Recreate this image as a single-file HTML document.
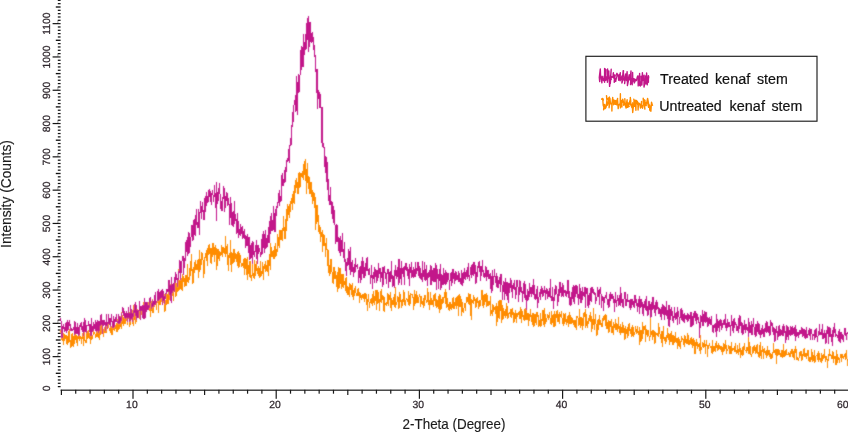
<!DOCTYPE html>
<html><head><meta charset="utf-8"><title>XRD</title>
<style>
html,body{margin:0;padding:0;background:#fff;}
body{width:848px;height:432px;overflow:hidden;font-family:"Liberation Sans",Arial,sans-serif;}
svg{display:block}
.tk{font-size:10.4px;text-rendering:geometricPrecision;fill:#2e262c;stroke:#2e262c;stroke-width:.25px}
.ttl{font-size:13.8px;fill:#1c1c1c;stroke:#1c1c1c;stroke-width:.15px}
.lg{font-size:14.9px;fill:#111;stroke:#111;stroke-width:.2px}
</style></head><body>
<svg width="848" height="432" viewBox="0 0 848 432" font-family="Liberation Sans, Arial, sans-serif">
<rect width="848" height="432" fill="#fff"/>
<g fill="#141414"><rect x="57.8" y="386.00" width="2.8" height="1.25"/><rect x="57.8" y="382.67" width="2.8" height="1.25"/><rect x="57.8" y="379.34" width="2.8" height="1.25"/><rect x="57.8" y="376.01" width="2.8" height="1.25"/><rect x="55.8" y="372.63" width="4.8" height="1.35"/><rect x="57.8" y="369.35" width="2.8" height="1.25"/><rect x="57.8" y="366.02" width="2.8" height="1.25"/><rect x="57.8" y="362.69" width="2.8" height="1.25"/><rect x="57.8" y="359.36" width="2.8" height="1.25"/><rect x="52.6" y="356.05" width="8" height="1.2"/><rect x="57.4" y="353.35" width="1" height="3" opacity=".4"/><rect x="57.8" y="352.70" width="2.8" height="1.25"/><rect x="57.8" y="349.37" width="2.8" height="1.25"/><rect x="57.8" y="346.04" width="2.8" height="1.25"/><rect x="57.8" y="342.71" width="2.8" height="1.25"/><rect x="55.8" y="339.33" width="4.8" height="1.35"/><rect x="57.8" y="336.05" width="2.8" height="1.25"/><rect x="57.8" y="332.72" width="2.8" height="1.25"/><rect x="57.8" y="329.39" width="2.8" height="1.25"/><rect x="57.8" y="326.06" width="2.8" height="1.25"/><rect x="52.6" y="322.75" width="8" height="1.2"/><rect x="57.4" y="320.05" width="1" height="3" opacity=".4"/><rect x="57.8" y="319.40" width="2.8" height="1.25"/><rect x="57.8" y="316.07" width="2.8" height="1.25"/><rect x="57.8" y="312.74" width="2.8" height="1.25"/><rect x="57.8" y="309.41" width="2.8" height="1.25"/><rect x="55.8" y="306.03" width="4.8" height="1.35"/><rect x="57.8" y="302.75" width="2.8" height="1.25"/><rect x="57.8" y="299.42" width="2.8" height="1.25"/><rect x="57.8" y="296.09" width="2.8" height="1.25"/><rect x="57.8" y="292.76" width="2.8" height="1.25"/><rect x="52.6" y="289.45" width="8" height="1.2"/><rect x="57.4" y="286.75" width="1" height="3" opacity=".4"/><rect x="57.8" y="286.10" width="2.8" height="1.25"/><rect x="57.8" y="282.77" width="2.8" height="1.25"/><rect x="57.8" y="279.44" width="2.8" height="1.25"/><rect x="57.8" y="276.11" width="2.8" height="1.25"/><rect x="55.8" y="272.73" width="4.8" height="1.35"/><rect x="57.8" y="269.45" width="2.8" height="1.25"/><rect x="57.8" y="266.12" width="2.8" height="1.25"/><rect x="57.8" y="262.79" width="2.8" height="1.25"/><rect x="57.8" y="259.46" width="2.8" height="1.25"/><rect x="52.6" y="256.15" width="8" height="1.2"/><rect x="57.4" y="253.45" width="1" height="3" opacity=".4"/><rect x="57.8" y="252.80" width="2.8" height="1.25"/><rect x="57.8" y="249.47" width="2.8" height="1.25"/><rect x="57.8" y="246.14" width="2.8" height="1.25"/><rect x="57.8" y="242.81" width="2.8" height="1.25"/><rect x="55.8" y="239.43" width="4.8" height="1.35"/><rect x="57.8" y="236.15" width="2.8" height="1.25"/><rect x="57.8" y="232.82" width="2.8" height="1.25"/><rect x="57.8" y="229.49" width="2.8" height="1.25"/><rect x="57.8" y="226.16" width="2.8" height="1.25"/><rect x="52.6" y="222.85" width="8" height="1.2"/><rect x="57.4" y="220.15" width="1" height="3" opacity=".4"/><rect x="57.8" y="219.50" width="2.8" height="1.25"/><rect x="57.8" y="216.17" width="2.8" height="1.25"/><rect x="57.8" y="212.84" width="2.8" height="1.25"/><rect x="57.8" y="209.51" width="2.8" height="1.25"/><rect x="55.8" y="206.13" width="4.8" height="1.35"/><rect x="57.8" y="202.85" width="2.8" height="1.25"/><rect x="57.8" y="199.52" width="2.8" height="1.25"/><rect x="57.8" y="196.19" width="2.8" height="1.25"/><rect x="57.8" y="192.86" width="2.8" height="1.25"/><rect x="52.6" y="189.55" width="8" height="1.2"/><rect x="57.4" y="186.85" width="1" height="3" opacity=".4"/><rect x="57.8" y="186.20" width="2.8" height="1.25"/><rect x="57.8" y="182.87" width="2.8" height="1.25"/><rect x="57.8" y="179.54" width="2.8" height="1.25"/><rect x="57.8" y="176.21" width="2.8" height="1.25"/><rect x="55.8" y="172.83" width="4.8" height="1.35"/><rect x="57.8" y="169.55" width="2.8" height="1.25"/><rect x="57.8" y="166.22" width="2.8" height="1.25"/><rect x="57.8" y="162.89" width="2.8" height="1.25"/><rect x="57.8" y="159.56" width="2.8" height="1.25"/><rect x="52.6" y="156.25" width="8" height="1.2"/><rect x="57.4" y="153.55" width="1" height="3" opacity=".4"/><rect x="57.8" y="152.90" width="2.8" height="1.25"/><rect x="57.8" y="149.57" width="2.8" height="1.25"/><rect x="57.8" y="146.24" width="2.8" height="1.25"/><rect x="57.8" y="142.91" width="2.8" height="1.25"/><rect x="55.8" y="139.53" width="4.8" height="1.35"/><rect x="57.8" y="136.25" width="2.8" height="1.25"/><rect x="57.8" y="132.92" width="2.8" height="1.25"/><rect x="57.8" y="129.59" width="2.8" height="1.25"/><rect x="57.8" y="126.26" width="2.8" height="1.25"/><rect x="52.6" y="122.95" width="8" height="1.2"/><rect x="57.4" y="120.25" width="1" height="3" opacity=".4"/><rect x="57.8" y="119.60" width="2.8" height="1.25"/><rect x="57.8" y="116.27" width="2.8" height="1.25"/><rect x="57.8" y="112.94" width="2.8" height="1.25"/><rect x="57.8" y="109.61" width="2.8" height="1.25"/><rect x="55.8" y="106.23" width="4.8" height="1.35"/><rect x="57.8" y="102.95" width="2.8" height="1.25"/><rect x="57.8" y="99.62" width="2.8" height="1.25"/><rect x="57.8" y="96.29" width="2.8" height="1.25"/><rect x="57.8" y="92.96" width="2.8" height="1.25"/><rect x="52.6" y="89.65" width="8" height="1.2"/><rect x="57.4" y="86.95" width="1" height="3" opacity=".4"/><rect x="57.8" y="86.30" width="2.8" height="1.25"/><rect x="57.8" y="82.97" width="2.8" height="1.25"/><rect x="57.8" y="79.64" width="2.8" height="1.25"/><rect x="57.8" y="76.31" width="2.8" height="1.25"/><rect x="55.8" y="72.93" width="4.8" height="1.35"/><rect x="57.8" y="69.65" width="2.8" height="1.25"/><rect x="57.8" y="66.32" width="2.8" height="1.25"/><rect x="57.8" y="62.99" width="2.8" height="1.25"/><rect x="57.8" y="59.66" width="2.8" height="1.25"/><rect x="52.6" y="56.35" width="8" height="1.2"/><rect x="57.4" y="53.65" width="1" height="3" opacity=".4"/><rect x="57.8" y="53.00" width="2.8" height="1.25"/><rect x="57.8" y="49.67" width="2.8" height="1.25"/><rect x="57.8" y="46.34" width="2.8" height="1.25"/><rect x="57.8" y="43.01" width="2.8" height="1.25"/><rect x="55.8" y="39.63" width="4.8" height="1.35"/><rect x="57.8" y="36.35" width="2.8" height="1.25"/><rect x="57.8" y="33.02" width="2.8" height="1.25"/><rect x="57.8" y="29.69" width="2.8" height="1.25"/><rect x="57.8" y="26.36" width="2.8" height="1.25"/><rect x="52.6" y="23.05" width="8" height="1.2"/><rect x="57.4" y="20.35" width="1" height="3" opacity=".4"/><rect x="57.8" y="19.70" width="2.8" height="1.25"/><rect x="57.8" y="16.37" width="2.8" height="1.25"/><rect x="57.8" y="13.04" width="2.8" height="1.25"/><rect x="57.8" y="9.71" width="2.8" height="1.25"/><rect x="55.8" y="6.33" width="4.8" height="1.35"/><rect x="57.8" y="3.05" width="2.8" height="1.25"/><rect x="57.8" y="-0.28" width="2.8" height="1.25"/></g>
<rect x="60.6" y="389.6" width="788" height="1.15" fill="#111"/>
<g fill="#1a1a1a"><rect x="60.80" y="389.8" width="1.2" height="5.2"/><rect x="75.12" y="389.8" width="1.2" height="3.9"/><rect x="89.44" y="389.8" width="1.2" height="3.9"/><rect x="103.76" y="389.8" width="1.2" height="3.9"/><rect x="118.08" y="389.8" width="1.2" height="3.9"/><rect x="132.40" y="389.8" width="1.2" height="9.0"/><rect x="146.72" y="389.8" width="1.2" height="3.9"/><rect x="161.04" y="389.8" width="1.2" height="3.9"/><rect x="175.36" y="389.8" width="1.2" height="3.9"/><rect x="189.68" y="389.8" width="1.2" height="3.9"/><rect x="204.00" y="389.8" width="1.2" height="5.2"/><rect x="218.32" y="389.8" width="1.2" height="3.9"/><rect x="232.64" y="389.8" width="1.2" height="3.9"/><rect x="246.96" y="389.8" width="1.2" height="3.9"/><rect x="261.28" y="389.8" width="1.2" height="3.9"/><rect x="275.60" y="389.8" width="1.2" height="9.0"/><rect x="289.92" y="389.8" width="1.2" height="3.9"/><rect x="304.24" y="389.8" width="1.2" height="3.9"/><rect x="318.56" y="389.8" width="1.2" height="3.9"/><rect x="332.88" y="389.8" width="1.2" height="3.9"/><rect x="347.20" y="389.8" width="1.2" height="5.2"/><rect x="361.52" y="389.8" width="1.2" height="3.9"/><rect x="375.84" y="389.8" width="1.2" height="3.9"/><rect x="390.16" y="389.8" width="1.2" height="3.9"/><rect x="404.48" y="389.8" width="1.2" height="3.9"/><rect x="418.80" y="389.8" width="1.2" height="9.0"/><rect x="433.12" y="389.8" width="1.2" height="3.9"/><rect x="447.44" y="389.8" width="1.2" height="3.9"/><rect x="461.76" y="389.8" width="1.2" height="3.9"/><rect x="476.08" y="389.8" width="1.2" height="3.9"/><rect x="490.40" y="389.8" width="1.2" height="5.2"/><rect x="504.72" y="389.8" width="1.2" height="3.9"/><rect x="519.04" y="389.8" width="1.2" height="3.9"/><rect x="533.36" y="389.8" width="1.2" height="3.9"/><rect x="547.68" y="389.8" width="1.2" height="3.9"/><rect x="562.00" y="389.8" width="1.2" height="9.0"/><rect x="576.32" y="389.8" width="1.2" height="3.9"/><rect x="590.64" y="389.8" width="1.2" height="3.9"/><rect x="604.96" y="389.8" width="1.2" height="3.9"/><rect x="619.28" y="389.8" width="1.2" height="3.9"/><rect x="633.60" y="389.8" width="1.2" height="5.2"/><rect x="647.92" y="389.8" width="1.2" height="3.9"/><rect x="662.24" y="389.8" width="1.2" height="3.9"/><rect x="676.56" y="389.8" width="1.2" height="3.9"/><rect x="690.88" y="389.8" width="1.2" height="3.9"/><rect x="705.20" y="389.8" width="1.2" height="9.0"/><rect x="719.52" y="389.8" width="1.2" height="3.9"/><rect x="733.84" y="389.8" width="1.2" height="3.9"/><rect x="748.16" y="389.8" width="1.2" height="3.9"/><rect x="762.48" y="389.8" width="1.2" height="3.9"/><rect x="776.80" y="389.8" width="1.2" height="5.2"/><rect x="791.12" y="389.8" width="1.2" height="3.9"/><rect x="805.44" y="389.8" width="1.2" height="3.9"/><rect x="819.76" y="389.8" width="1.2" height="3.9"/><rect x="834.08" y="389.8" width="1.2" height="3.9"/><rect x="848.40" y="389.8" width="1.2" height="9.0"/></g>
<g class="tk"><text transform="translate(49.8,388.4) rotate(-90)" text-anchor="middle">0</text><text transform="translate(49.8,356.7) rotate(-90)" text-anchor="middle">100</text><text transform="translate(49.8,323.4) rotate(-90)" text-anchor="middle">200</text><text transform="translate(49.8,290.1) rotate(-90)" text-anchor="middle">300</text><text transform="translate(49.8,256.8) rotate(-90)" text-anchor="middle">400</text><text transform="translate(49.8,223.5) rotate(-90)" text-anchor="middle">500</text><text transform="translate(49.8,190.2) rotate(-90)" text-anchor="middle">600</text><text transform="translate(49.8,156.9) rotate(-90)" text-anchor="middle">700</text><text transform="translate(49.8,123.6) rotate(-90)" text-anchor="middle">800</text><text transform="translate(49.8,90.3) rotate(-90)" text-anchor="middle">900</text><text transform="translate(49.8,57.0) rotate(-90)" text-anchor="middle">1000</text><text transform="translate(49.8,23.7) rotate(-90)" text-anchor="middle">1100</text><text x="131.9" y="408.0" text-anchor="middle">10</text><text x="275.1" y="408.0" text-anchor="middle">20</text><text x="418.3" y="408.0" text-anchor="middle">30</text><text x="561.5" y="408.0" text-anchor="middle">40</text><text x="704.7" y="408.0" text-anchor="middle">50</text><text x="848.6" y="408.0" text-anchor="end">60</text></g>
<text class="ttl" transform="translate(402.6,428.9) scale(0.972,1)">2-Theta (Degree)</text>
<text class="ttl" transform="translate(10.8,247.9) rotate(-90) scale(0.998,1)">Intensity (Counts)</text>
<defs><filter id="sf" x="-2%" y="-2%" width="104%" height="104%"><feConvolveMatrix order="3" kernelMatrix="0.03 0.09 0.03 0.09 0.52 0.09 0.03 0.09 0.03" divisor="1" edgeMode="none" preserveAlpha="false"/></filter></defs>
<g filter="url(#sf)">
<polyline fill="none" stroke="#ff8c00" stroke-width="1" shape-rendering="crispEdges" stroke-linejoin="round" points="60.9,329.9 61.3,339.1 61.6,337.0 62.0,335.5 62.4,340.6 62.8,337.3 63.1,337.4 63.5,344.8 63.9,333.2 64.3,335.0 64.6,340.2 65.0,338.4 65.4,335.6 65.7,338.9 66.1,338.9 66.5,344.0 66.9,335.7 67.2,337.5 67.6,337.0 68.0,344.5 68.3,331.3 68.7,337.6 69.1,339.9 69.5,329.9 69.8,338.6 70.2,344.5 70.6,340.1 71.0,348.0 71.3,334.1 71.7,340.2 72.1,341.5 72.4,333.9 72.8,345.3 73.2,336.1 73.6,347.0 73.9,341.1 74.3,343.4 74.7,332.2 75.0,330.9 75.4,339.7 75.8,334.8 76.2,339.0 76.5,335.9 76.9,341.4 77.3,345.4 77.7,345.7 78.0,336.6 78.4,328.8 78.8,337.0 79.1,340.3 79.5,330.1 79.9,337.1 80.3,337.7 80.6,337.0 81.0,338.6 81.4,339.4 81.7,344.0 82.1,335.9 82.5,338.4 82.9,332.9 83.2,339.4 83.6,345.8 84.0,338.2 84.4,330.5 84.7,339.2 85.1,341.2 85.5,342.4 85.8,341.7 86.2,338.5 86.6,342.1 87.0,330.7 87.3,338.1 87.7,336.4 88.1,330.6 88.5,330.3 88.8,337.4 89.2,335.0 89.6,333.2 89.9,337.1 90.3,343.7 90.7,333.3 91.1,332.2 91.4,334.1 91.8,339.7 92.2,336.5 92.5,338.1 92.9,336.8 93.3,329.9 93.7,328.8 94.0,332.4 94.4,332.8 94.8,332.2 95.2,335.0 95.5,335.2 95.9,337.7 96.3,334.9 96.6,324.8 97.0,330.6 97.4,335.7 97.8,336.1 98.1,337.6 98.5,332.0 98.9,331.8 99.2,339.5 99.6,330.9 100.0,335.3 100.4,326.4 100.7,331.7 101.1,324.7 101.5,334.0 101.9,333.1 102.2,330.3 102.6,326.7 103.0,328.7 103.3,336.4 103.7,330.0 104.1,330.5 104.5,332.3 104.8,333.0 105.2,322.1 105.6,331.5 106.0,333.3 106.3,326.5 106.7,328.5 107.1,329.2 107.4,325.2 107.8,326.3 108.2,326.6 108.6,323.7 108.9,326.6 109.3,330.5 109.7,329.1 110.0,329.6 110.4,326.1 110.8,331.8 111.2,335.0 111.5,326.1 111.9,332.4 112.3,335.0 112.7,324.2 113.0,329.0 113.4,323.2 113.8,327.8 114.1,330.3 114.5,330.7 114.9,327.1 115.3,325.8 115.6,328.2 116.0,325.5 116.4,331.1 116.7,323.7 117.1,332.0 117.5,324.3 117.9,319.9 118.2,317.9 118.6,314.7 119.0,329.9 119.4,318.8 119.7,316.5 120.1,317.4 120.5,326.2 120.8,319.7 121.2,312.6 121.6,328.4 122.0,318.8 122.3,315.6 122.7,324.0 123.1,317.7 123.4,325.4 123.8,324.0 124.2,323.8 124.6,318.8 124.9,320.0 125.3,314.8 125.7,323.7 126.1,319.7 126.4,314.2 126.8,316.0 127.2,324.9 127.5,315.1 127.9,320.5 128.3,316.1 128.7,316.4 129.0,311.7 129.4,316.9 129.8,326.3 130.2,323.8 130.5,313.4 130.9,318.1 131.3,311.1 131.6,315.1 132.0,320.0 132.4,310.8 132.8,319.9 133.1,325.9 133.5,305.4 133.9,324.8 134.2,312.1 134.6,310.4 135.0,314.2 135.4,323.1 135.7,309.5 136.1,321.5 136.5,320.9 136.9,315.8 137.2,309.9 137.6,312.2 138.0,309.5 138.3,315.5 138.7,314.0 139.1,318.6 139.5,314.4 139.8,309.6 140.2,313.9 140.6,309.8 140.9,314.9 141.3,314.8 141.7,311.5 142.1,312.5 142.4,308.3 142.8,310.2 143.2,302.1 143.6,311.8 143.9,311.7 144.3,315.6 144.7,310.0 145.0,306.5 145.4,313.6 145.8,309.9 146.2,305.7 146.5,309.9 146.9,311.7 147.3,303.9 147.7,308.2 148.0,306.5 148.4,302.3 148.8,302.2 149.1,309.7 149.5,310.5 149.9,306.1 150.3,308.1 150.6,317.0 151.0,300.4 151.4,306.7 151.7,302.8 152.1,312.5 152.5,299.5 152.9,309.1 153.2,306.4 153.6,312.9 154.0,306.2 154.4,306.4 154.7,305.9 155.1,302.4 155.5,304.2 155.8,299.2 156.2,306.6 156.6,309.1 157.0,303.8 157.3,300.1 157.7,296.7 158.1,298.7 158.4,312.2 158.8,300.6 159.2,294.6 159.6,301.8 159.9,304.7 160.3,300.1 160.7,304.2 161.1,297.9 161.4,301.2 161.8,293.4 162.2,298.0 162.5,304.4 162.9,297.0 163.3,295.0 163.7,302.9 164.0,301.9 164.4,311.8 164.8,294.3 165.1,302.1 165.5,310.2 165.9,308.0 166.3,299.4 166.6,293.7 167.0,298.0 167.4,294.6 167.8,302.9 168.1,303.8 168.5,291.3 168.9,293.1 169.2,295.6 169.6,288.0 170.0,300.0 170.4,296.7 170.7,288.4 171.1,283.5 171.5,293.3 171.9,283.7 172.2,296.0 172.6,290.5 173.0,292.9 173.3,300.5 173.7,289.8 174.1,285.6 174.5,291.3 174.8,290.4 175.2,281.7 175.6,296.3 175.9,297.2 176.3,292.0 176.7,294.7 177.1,279.7 177.4,285.2 177.8,291.5 178.2,289.7 178.6,269.2 178.9,288.8 179.3,289.2 179.7,282.6 180.0,280.2 180.4,282.2 180.8,288.4 181.2,289.4 181.5,278.7 181.9,282.1 182.3,291.0 182.6,274.0 183.0,275.9 183.4,281.4 183.8,281.1 184.1,277.8 184.5,282.8 184.9,286.3 185.3,275.9 185.6,286.0 186.0,274.6 186.4,285.1 186.7,276.7 187.1,276.4 187.5,264.4 187.9,281.2 188.2,282.9 188.6,277.8 189.0,280.3 189.4,276.7 189.7,270.1 190.1,267.5 190.5,261.7 190.8,276.0 191.2,254.9 191.6,258.5 192.0,271.5 192.3,283.9 192.7,269.9 193.1,268.6 193.4,282.8 193.8,267.7 194.2,269.0 194.6,272.3 194.9,263.1 195.3,260.3 195.7,269.2 196.1,264.4 196.4,269.5 196.8,269.9 197.2,264.1 197.5,260.9 197.9,267.4 198.3,277.4 198.7,259.3 199.0,272.8 199.4,261.5 199.8,250.6 200.1,261.6 200.5,268.7 200.9,270.1 201.3,252.9 201.6,260.2 202.0,256.3 202.4,253.4 202.8,259.3 203.1,260.6 203.5,264.4 203.9,277.8 204.2,267.4 204.6,257.7 205.0,258.0 205.4,253.9 205.7,257.0 206.1,254.9 206.5,250.5 206.8,261.1 207.2,256.9 207.6,265.3 208.0,248.2 208.3,254.1 208.7,250.9 209.1,243.9 209.5,246.7 209.8,254.0 210.2,248.2 210.6,262.6 210.9,250.2 211.3,251.9 211.7,263.3 212.1,243.7 212.4,257.0 212.8,247.7 213.2,254.8 213.6,245.4 213.9,243.2 214.3,257.2 214.7,261.8 215.0,252.5 215.4,245.9 215.8,253.9 216.2,255.4 216.5,248.1 216.9,269.5 217.3,255.6 217.6,260.3 218.0,249.1 218.4,255.9 218.8,258.4 219.1,253.3 219.5,260.7 219.9,251.1 220.3,255.5 220.6,253.5 221.0,255.7 221.4,245.0 221.7,251.7 222.1,247.5 222.5,247.8 222.9,256.3 223.2,247.3 223.6,248.7 224.0,249.0 224.3,253.8 224.7,254.0 225.1,246.0 225.5,236.9 225.8,256.8 226.2,247.9 226.6,253.9 227.0,246.4 227.3,248.8 227.7,244.8 228.1,270.3 228.4,255.9 228.8,258.6 229.2,253.0 229.6,257.3 229.9,256.9 230.3,248.5 230.7,240.7 231.1,272.0 231.4,255.8 231.8,252.0 232.2,254.2 232.5,256.8 232.9,263.6 233.3,261.2 233.7,250.6 234.0,248.6 234.4,255.2 234.8,261.6 235.1,255.8 235.5,258.3 235.9,253.5 236.3,256.6 236.6,261.7 237.0,256.8 237.4,266.0 237.8,253.5 238.1,251.5 238.5,267.1 238.9,257.2 239.2,266.6 239.6,253.8 240.0,255.2 240.4,262.8 240.7,255.4 241.1,264.8 241.5,266.5 241.8,266.4 242.2,264.0 242.6,265.5 243.0,262.8 243.3,268.0 243.7,259.6 244.1,258.3 244.5,268.2 244.8,274.3 245.2,261.1 245.6,258.9 245.9,267.3 246.3,274.6 246.7,265.2 247.1,257.7 247.4,279.1 247.8,264.7 248.2,269.9 248.5,273.4 248.9,265.2 249.3,276.6 249.7,266.8 250.0,260.7 250.4,267.9 250.8,274.5 251.2,280.3 251.5,277.3 251.9,280.9 252.3,259.8 252.6,271.3 253.0,276.3 253.4,278.0 253.8,276.6 254.1,272.2 254.5,278.1 254.9,259.9 255.3,274.9 255.6,275.1 256.0,268.5 256.4,261.4 256.7,262.2 257.1,273.3 257.5,268.7 257.9,269.3 258.2,266.9 258.6,268.5 259.0,275.8 259.3,277.7 259.7,268.7 260.1,277.0 260.5,261.2 260.8,269.2 261.2,275.7 261.6,271.2 262.0,272.2 262.3,269.8 262.7,262.9 263.1,277.6 263.4,280.0 263.8,266.1 264.2,269.1 264.6,266.7 264.9,264.6 265.3,268.1 265.7,261.6 266.0,271.7 266.4,265.2 266.8,270.4 267.2,271.8 267.5,260.3 267.9,260.1 268.3,275.5 268.7,269.8 269.0,260.4 269.4,254.9 269.8,265.5 270.1,261.9 270.5,269.2 270.9,243.6 271.3,256.1 271.6,252.8 272.0,253.8 272.4,251.4 272.8,252.9 273.1,258.5 273.5,250.9 273.9,254.7 274.2,246.2 274.6,258.9 275.0,257.0 275.4,248.4 275.7,243.6 276.1,250.3 276.5,255.1 276.8,250.3 277.2,251.9 277.6,234.9 278.0,240.6 278.3,237.1 278.7,242.5 279.1,247.3 279.5,234.5 279.8,230.1 280.2,236.3 280.6,239.4 280.9,230.7 281.3,239.6 281.7,230.6 282.1,239.8 282.4,240.5 282.8,228.6 283.2,229.1 283.5,216.9 283.9,231.1 284.3,227.8 284.7,234.9 285.0,239.0 285.4,237.2 285.8,219.9 286.2,230.5 286.5,212.6 286.9,209.2 287.3,220.4 287.6,204.9 288.0,214.2 288.4,206.3 288.8,215.0 289.1,204.9 289.5,217.8 289.9,204.8 290.2,211.6 290.6,207.8 291.0,200.7 291.4,202.9 291.7,203.5 292.1,196.1 292.5,194.2 292.9,209.8 293.2,193.5 293.6,191.4 294.0,201.1 294.3,191.0 294.7,203.1 295.1,180.2 295.5,192.1 295.8,189.6 296.2,178.4 296.6,187.9 297.0,181.0 297.3,193.1 297.7,188.4 298.1,194.1 298.4,183.8 298.8,173.1 299.2,178.9 299.6,172.9 299.9,187.7 300.3,185.9 300.7,181.9 301.0,172.9 301.4,174.2 301.8,176.7 302.2,171.1 302.5,177.1 302.9,175.7 303.3,164.6 303.7,179.8 304.0,173.5 304.4,161.8 304.8,174.2 305.1,169.3 305.5,180.1 305.9,159.4 306.3,194.0 306.6,185.2 307.0,184.9 307.4,163.6 307.7,174.4 308.1,179.9 308.5,188.8 308.9,176.2 309.2,179.0 309.6,186.3 310.0,193.6 310.4,191.5 310.7,182.1 311.1,182.6 311.5,185.9 311.8,189.0 312.2,203.3 312.6,190.5 313.0,200.6 313.3,193.9 313.7,192.4 314.1,203.0 314.4,207.5 314.8,193.9 315.2,200.7 315.6,210.2 315.9,229.9 316.3,209.7 316.7,206.6 317.1,205.0 317.4,220.3 317.8,222.0 318.2,222.5 318.5,215.2 318.9,231.6 319.3,225.8 319.7,233.5 320.0,226.7 320.4,241.3 320.8,229.3 321.2,237.0 321.5,236.7 321.9,232.9 322.3,230.1 322.6,251.1 323.0,234.1 323.4,238.5 323.8,245.7 324.1,235.7 324.5,245.2 324.9,239.2 325.2,253.1 325.6,256.2 326.0,243.6 326.4,238.7 326.7,250.0 327.1,249.5 327.5,259.5 327.9,266.1 328.2,260.1 328.6,250.2 329.0,272.7 329.3,265.1 329.7,275.1 330.1,263.3 330.5,259.5 330.8,273.8 331.2,269.5 331.6,259.7 331.9,269.4 332.3,277.4 332.7,278.8 333.1,283.9 333.4,267.6 333.8,277.6 334.2,267.4 334.6,269.1 334.9,278.9 335.3,278.6 335.7,271.2 336.0,275.4 336.4,275.1 336.8,286.9 337.2,272.1 337.5,283.1 337.9,291.8 338.3,282.4 338.7,276.6 339.0,267.1 339.4,282.1 339.8,288.1 340.1,268.1 340.5,280.0 340.9,282.9 341.3,288.0 341.6,288.0 342.0,273.8 342.4,284.4 342.7,286.3 343.1,286.5 343.5,274.8 343.9,287.7 344.2,281.0 344.6,283.5 345.0,283.9 345.4,290.7 345.7,282.1 346.1,277.0 346.5,286.8 346.8,292.0 347.2,294.4 347.6,286.1 348.0,289.0 348.3,288.2 348.7,287.8 349.1,296.5 349.4,283.9 349.8,287.2 350.2,289.2 350.6,287.7 350.9,283.9 351.3,289.1 351.7,294.5 352.1,283.3 352.4,292.5 352.8,294.4 353.2,299.3 353.5,290.7 353.9,296.9 354.3,294.1 354.7,288.9 355.0,291.5 355.4,286.2 355.8,290.4 356.1,294.6 356.5,294.4 356.9,295.6 357.3,289.4 357.6,293.1 358.0,295.7 358.4,288.9 358.8,293.3 359.1,296.6 359.5,302.6 359.9,292.1 360.2,293.4 360.6,294.6 361.0,297.5 361.4,299.9 361.7,296.8 362.1,294.5 362.5,296.7 362.9,297.0 363.2,299.0 363.6,294.8 364.0,295.6 364.3,301.2 364.7,293.1 365.1,293.2 365.5,293.3 365.8,298.6 366.2,299.2 366.6,304.6 366.9,294.5 367.3,310.4 367.7,301.1 368.1,301.1 368.4,294.8 368.8,299.6 369.2,304.9 369.6,307.5 369.9,303.8 370.3,299.4 370.7,299.7 371.0,301.1 371.4,303.8 371.8,301.2 372.2,294.8 372.5,306.0 372.9,300.0 373.3,291.5 373.6,297.2 374.0,302.6 374.4,296.7 374.8,304.3 375.1,300.2 375.5,291.9 375.9,290.1 376.3,309.5 376.6,296.6 377.0,289.9 377.4,303.3 377.7,299.0 378.1,292.3 378.5,303.0 378.9,298.0 379.2,300.7 379.6,310.8 380.0,298.6 380.4,301.5 380.7,295.5 381.1,289.3 381.5,296.9 381.8,302.5 382.2,298.1 382.6,299.5 383.0,295.1 383.3,308.3 383.7,306.9 384.1,311.6 384.4,297.4 384.8,300.8 385.2,304.1 385.6,304.6 385.9,303.8 386.3,305.7 386.7,302.5 387.1,303.4 387.4,293.3 387.8,299.1 388.2,305.2 388.5,304.0 388.9,294.4 389.3,298.4 389.7,299.3 390.0,297.0 390.4,292.4 390.8,307.4 391.1,304.9 391.5,310.3 391.9,298.3 392.3,303.0 392.6,304.6 393.0,305.0 393.4,297.3 393.8,301.7 394.1,303.8 394.5,294.2 394.9,306.5 395.2,307.7 395.6,287.0 396.0,302.9 396.4,303.8 396.7,304.8 397.1,301.6 397.5,296.6 397.8,296.8 398.2,297.9 398.6,302.3 399.0,308.8 399.3,299.3 399.7,292.6 400.1,295.0 400.5,301.6 400.8,296.4 401.2,302.8 401.6,301.0 401.9,307.3 402.3,302.4 402.7,299.9 403.1,301.5 403.4,296.5 403.8,290.5 404.2,293.5 404.6,302.2 404.9,304.5 405.3,304.1 405.7,305.8 406.0,300.4 406.4,298.3 406.8,299.5 407.2,299.5 407.5,299.6 407.9,301.2 408.3,304.4 408.6,291.2 409.0,294.8 409.4,305.3 409.8,305.3 410.1,303.5 410.5,300.2 410.9,293.6 411.3,294.9 411.6,294.6 412.0,294.5 412.4,294.4 412.7,296.3 413.1,297.8 413.5,300.9 413.9,309.6 414.2,300.9 414.6,290.6 415.0,303.1 415.3,303.6 415.7,294.8 416.1,299.8 416.5,302.8 416.8,291.9 417.2,297.0 417.6,296.3 418.0,303.4 418.3,297.7 418.7,298.4 419.1,296.3 419.4,294.3 419.8,294.4 420.2,299.6 420.6,296.8 420.9,306.7 421.3,297.1 421.7,296.9 422.1,302.7 422.4,304.8 422.8,301.0 423.2,307.2 423.5,298.9 423.9,299.2 424.3,305.9 424.7,300.6 425.0,295.1 425.4,295.2 425.8,295.5 426.1,301.7 426.5,302.8 426.9,303.1 427.3,297.8 427.6,288.4 428.0,293.5 428.4,292.6 428.8,293.9 429.1,309.7 429.5,302.2 429.9,303.5 430.2,294.5 430.6,292.2 431.0,304.8 431.4,301.1 431.7,298.3 432.1,303.9 432.5,304.7 432.8,305.0 433.2,296.7 433.6,306.3 434.0,295.4 434.3,301.0 434.7,297.5 435.1,293.3 435.5,305.1 435.8,305.9 436.2,299.3 436.6,307.1 436.9,305.6 437.3,302.3 437.7,300.9 438.1,308.4 438.4,303.8 438.8,298.7 439.2,294.6 439.5,312.3 439.9,294.9 440.3,297.2 440.7,307.6 441.0,309.7 441.4,299.7 441.8,304.1 442.2,301.2 442.5,297.4 442.9,303.9 443.3,301.1 443.6,299.5 444.0,297.3 444.4,292.7 444.8,293.0 445.1,300.8 445.5,303.3 445.9,289.5 446.3,298.7 446.6,299.9 447.0,308.0 447.4,298.0 447.7,306.3 448.1,304.6 448.5,309.3 448.9,305.0 449.2,301.9 449.6,310.2 450.0,307.0 450.3,302.7 450.7,309.0 451.1,308.9 451.5,306.7 451.8,309.8 452.2,299.1 452.6,307.6 453.0,298.3 453.3,297.5 453.7,308.7 454.1,302.2 454.4,305.0 454.8,308.5 455.2,304.2 455.6,303.8 455.9,298.7 456.3,297.1 456.7,308.3 457.0,304.7 457.4,299.7 457.8,296.3 458.2,315.5 458.5,295.8 458.9,303.4 459.3,294.5 459.7,304.8 460.0,307.0 460.4,302.3 460.8,296.4 461.1,302.4 461.5,315.1 461.9,299.0 462.3,311.1 462.6,307.8 463.0,308.8 463.4,312.4 463.8,309.3 464.1,307.9 464.5,305.9 464.9,302.9 465.2,304.4 465.6,310.5 466.0,303.7 466.4,297.5 466.7,297.7 467.1,302.0 467.5,299.4 467.8,298.0 468.2,295.5 468.6,293.7 469.0,304.4 469.3,304.2 469.7,294.9 470.1,294.5 470.5,294.6 470.8,315.2 471.2,303.9 471.6,320.0 471.9,298.9 472.3,302.4 472.7,302.4 473.1,303.4 473.4,295.7 473.8,304.1 474.2,297.0 474.5,299.5 474.9,300.5 475.3,299.9 475.7,301.7 476.0,308.1 476.4,298.4 476.8,298.4 477.2,302.9 477.5,298.2 477.9,297.2 478.3,308.8 478.6,302.7 479.0,304.2 479.4,306.7 479.8,300.1 480.1,306.2 480.5,304.0 480.9,300.3 481.2,299.7 481.6,299.8 482.0,289.6 482.4,304.2 482.7,300.1 483.1,307.8 483.5,298.8 483.9,295.2 484.2,294.8 484.6,304.7 485.0,302.7 485.3,294.5 485.7,301.7 486.1,296.0 486.5,306.3 486.8,293.7 487.2,295.7 487.6,298.9 488.0,305.8 488.3,302.6 488.7,301.3 489.1,301.0 489.4,303.4 489.8,304.4 490.2,302.7 490.6,296.9 490.9,315.2 491.3,312.3 491.7,313.6 492.0,309.6 492.4,315.5 492.8,304.0 493.2,306.8 493.5,309.0 493.9,311.6 494.3,307.7 494.7,307.9 495.0,307.4 495.4,313.1 495.8,306.2 496.1,317.2 496.5,303.5 496.9,325.7 497.3,313.1 497.6,316.4 498.0,306.3 498.4,318.0 498.7,301.4 499.1,318.6 499.5,300.6 499.9,308.7 500.2,310.9 500.6,309.0 501.0,300.2 501.4,306.9 501.7,322.8 502.1,305.7 502.5,310.6 502.8,320.1 503.2,308.2 503.6,318.2 504.0,311.4 504.3,311.2 504.7,315.7 505.1,309.4 505.5,317.8 505.8,311.9 506.2,315.7 506.6,313.9 506.9,303.5 507.3,312.7 507.7,318.8 508.1,314.0 508.4,317.4 508.8,313.5 509.2,312.9 509.5,313.4 509.9,313.5 510.3,316.8 510.7,311.9 511.0,309.0 511.4,317.4 511.8,314.8 512.2,314.3 512.5,308.5 512.9,309.4 513.3,318.5 513.6,314.6 514.0,322.5 514.4,319.9 514.8,315.2 515.1,312.3 515.5,310.8 515.9,317.1 516.2,322.4 516.6,313.8 517.0,316.7 517.4,313.9 517.7,315.3 518.1,312.7 518.5,313.1 518.9,312.3 519.2,318.8 519.6,311.7 520.0,319.2 520.3,316.4 520.7,307.8 521.1,315.2 521.5,322.7 521.8,309.8 522.2,312.2 522.6,311.5 522.9,316.2 523.3,315.5 523.7,318.3 524.1,320.6 524.4,309.8 524.8,319.0 525.2,319.6 525.6,319.4 525.9,308.2 526.3,313.1 526.7,319.1 527.0,317.6 527.4,314.9 527.8,313.1 528.2,325.3 528.5,313.1 528.9,318.6 529.3,320.9 529.7,319.4 530.0,313.7 530.4,309.0 530.8,316.9 531.1,314.9 531.5,321.6 531.9,315.3 532.3,313.7 532.6,325.0 533.0,320.2 533.4,313.9 533.7,326.3 534.1,319.6 534.5,314.9 534.9,326.1 535.2,319.8 535.6,317.6 536.0,313.6 536.4,324.2 536.7,312.6 537.1,316.5 537.5,312.2 537.8,312.4 538.2,316.4 538.6,315.7 539.0,326.5 539.3,324.6 539.7,322.9 540.1,319.7 540.4,313.5 540.8,326.7 541.2,319.6 541.6,324.5 541.9,325.6 542.3,310.9 542.7,317.6 543.1,310.2 543.4,312.4 543.8,322.6 544.2,327.1 544.5,308.1 544.9,320.1 545.3,323.7 545.7,314.8 546.0,317.5 546.4,321.4 546.8,319.8 547.1,317.4 547.5,317.8 547.9,314.5 548.3,319.9 548.6,319.8 549.0,315.3 549.4,316.7 549.8,312.9 550.1,319.4 550.5,318.7 550.9,323.8 551.2,311.0 551.6,325.0 552.0,317.2 552.4,322.6 552.7,316.6 553.1,314.6 553.5,326.2 553.9,319.3 554.2,326.8 554.6,311.5 555.0,320.4 555.3,325.9 555.7,321.7 556.1,311.9 556.5,311.1 556.8,312.2 557.2,322.1 557.6,319.0 557.9,310.4 558.3,321.9 558.7,319.9 559.1,323.0 559.4,324.0 559.8,312.5 560.2,315.3 560.6,316.2 560.9,315.6 561.3,313.4 561.7,311.1 562.0,318.4 562.4,320.0 562.8,323.3 563.2,313.2 563.5,320.9 563.9,325.6 564.3,319.7 564.6,318.3 565.0,314.4 565.4,313.6 565.8,322.0 566.1,322.3 566.5,320.0 566.9,324.3 567.3,319.0 567.6,316.2 568.0,318.3 568.4,326.3 568.7,324.2 569.1,312.3 569.5,323.4 569.9,315.0 570.2,315.5 570.6,320.2 571.0,323.5 571.4,317.7 571.7,323.1 572.1,319.7 572.5,318.4 572.8,322.4 573.2,320.1 573.6,320.6 574.0,325.1 574.3,320.2 574.7,322.4 575.1,328.1 575.4,321.1 575.8,320.9 576.2,322.5 576.6,329.5 576.9,316.0 577.3,316.5 577.7,316.7 578.1,318.3 578.4,326.0 578.8,319.4 579.2,324.5 579.5,309.7 579.9,322.7 580.3,317.1 580.7,327.7 581.0,326.0 581.4,323.0 581.8,317.2 582.1,318.0 582.5,319.3 582.9,329.5 583.3,315.4 583.6,325.3 584.0,313.2 584.4,312.1 584.8,317.1 585.1,316.4 585.5,327.2 585.9,309.0 586.2,320.3 586.6,316.6 587.0,325.5 587.4,321.8 587.7,327.2 588.1,322.7 588.5,321.6 588.8,320.5 589.2,315.2 589.6,319.6 590.0,320.8 590.3,321.8 590.7,312.6 591.1,324.9 591.5,316.6 591.8,331.5 592.2,326.5 592.6,320.4 592.9,323.2 593.3,308.3 593.7,310.4 594.1,329.8 594.4,327.7 594.8,323.4 595.2,314.7 595.6,317.6 595.9,321.4 596.3,329.7 596.7,327.0 597.0,335.7 597.4,330.4 597.8,321.3 598.2,319.6 598.5,329.5 598.9,322.9 599.3,315.9 599.6,322.8 600.0,325.1 600.4,320.8 600.8,321.3 601.1,323.5 601.5,326.4 601.9,325.9 602.3,323.6 602.6,326.7 603.0,318.0 603.4,320.1 603.7,319.3 604.1,315.0 604.5,317.1 604.9,318.0 605.2,322.9 605.6,325.6 606.0,314.1 606.3,328.0 606.7,327.8 607.1,329.0 607.5,324.1 607.8,323.2 608.2,320.5 608.6,326.4 609.0,333.4 609.3,324.0 609.7,321.1 610.1,325.5 610.4,326.3 610.8,323.2 611.2,319.3 611.6,326.2 611.9,332.5 612.3,328.7 612.7,326.9 613.1,334.5 613.4,322.8 613.8,329.9 614.2,324.1 614.5,325.6 614.9,328.0 615.3,319.2 615.7,329.3 616.0,329.9 616.4,325.6 616.8,323.2 617.1,327.1 617.5,331.6 617.9,324.1 618.3,324.5 618.6,317.9 619.0,328.5 619.4,326.6 619.8,330.2 620.1,334.4 620.5,327.4 620.9,324.0 621.2,332.5 621.6,331.0 622.0,333.4 622.4,322.1 622.7,331.1 623.1,325.7 623.5,332.3 623.8,328.1 624.2,331.3 624.6,339.2 625.0,328.3 625.3,326.4 625.7,338.2 626.1,329.7 626.5,330.9 626.8,333.9 627.2,330.2 627.6,337.9 627.9,328.1 628.3,324.0 628.7,335.1 629.1,329.8 629.4,323.2 629.8,329.1 630.2,332.0 630.5,333.9 630.9,329.1 631.3,330.5 631.7,327.2 632.0,336.9 632.4,325.4 632.8,332.1 633.2,327.5 633.5,333.6 633.9,336.2 634.3,333.1 634.6,334.9 635.0,332.4 635.4,327.9 635.8,326.1 636.1,330.0 636.5,333.4 636.9,333.1 637.3,328.5 637.6,326.2 638.0,332.7 638.4,331.9 638.7,334.8 639.1,330.6 639.5,327.4 639.9,344.5 640.2,330.6 640.6,334.2 641.0,342.1 641.3,330.6 641.7,332.4 642.1,330.5 642.5,338.2 642.8,322.9 643.2,331.9 643.6,333.9 644.0,325.8 644.3,329.7 644.7,329.0 645.1,327.6 645.4,341.8 645.8,325.6 646.2,334.5 646.6,331.8 646.9,329.1 647.3,336.3 647.7,331.9 648.0,330.0 648.4,333.6 648.8,331.3 649.2,340.5 649.5,338.8 649.9,338.7 650.3,332.2 650.7,317.6 651.0,332.8 651.4,334.6 651.8,334.3 652.1,329.9 652.5,331.1 652.9,339.2 653.3,330.0 653.6,334.5 654.0,331.0 654.4,343.2 654.8,341.4 655.1,332.2 655.5,342.6 655.9,333.2 656.2,333.5 656.6,334.4 657.0,333.6 657.4,334.1 657.7,333.4 658.1,337.1 658.5,335.5 658.8,323.0 659.2,330.7 659.6,333.1 660.0,334.1 660.3,338.9 660.7,334.9 661.1,337.0 661.5,332.0 661.8,340.0 662.2,346.2 662.6,338.7 662.9,333.4 663.3,326.0 663.7,332.2 664.1,340.7 664.4,337.6 664.8,340.8 665.2,337.6 665.5,340.7 665.9,343.9 666.3,335.2 666.7,336.3 667.0,337.9 667.4,335.8 667.8,328.8 668.2,336.9 668.5,339.1 668.9,333.9 669.3,344.5 669.6,334.6 670.0,341.1 670.4,341.3 670.8,337.5 671.1,331.1 671.5,341.2 671.9,334.2 672.2,336.7 672.6,344.2 673.0,334.6 673.4,342.0 673.7,344.7 674.1,342.0 674.5,341.8 674.9,336.4 675.2,342.0 675.6,332.8 676.0,338.2 676.3,342.2 676.7,342.7 677.1,338.4 677.5,347.8 677.8,348.5 678.2,343.2 678.6,337.1 679.0,339.0 679.3,339.7 679.7,340.8 680.1,349.0 680.4,341.4 680.8,347.4 681.2,336.8 681.6,340.4 681.9,340.8 682.3,338.9 682.7,339.2 683.0,339.7 683.4,339.3 683.8,343.2 684.2,346.3 684.5,339.6 684.9,335.2 685.3,337.0 685.7,342.1 686.0,338.8 686.4,343.2 686.8,339.9 687.1,344.0 687.5,341.1 687.9,333.6 688.3,338.7 688.6,335.8 689.0,345.1 689.4,344.8 689.7,342.3 690.1,339.9 690.5,343.1 690.9,338.3 691.2,344.6 691.6,337.0 692.0,338.7 692.4,347.2 692.7,340.4 693.1,343.7 693.5,338.8 693.8,345.2 694.2,341.8 694.6,341.0 695.0,354.2 695.3,350.8 695.7,342.9 696.1,344.0 696.5,339.5 696.8,342.8 697.2,348.8 697.6,342.5 697.9,346.9 698.3,344.9 698.7,346.1 699.1,342.8 699.4,349.8 699.8,348.7 700.2,353.2 700.5,336.0 700.9,348.5 701.3,348.0 701.7,349.3 702.0,347.3 702.4,346.6 702.8,342.5 703.2,344.3 703.5,343.8 703.9,347.4 704.3,345.4 704.6,340.4 705.0,345.3 705.4,344.1 705.8,353.3 706.1,343.4 706.5,344.4 706.9,340.5 707.2,356.3 707.6,345.5 708.0,346.1 708.4,345.4 708.7,348.2 709.1,345.0 709.5,343.1 709.9,345.7 710.2,347.1 710.6,346.8 711.0,347.6 711.3,346.0 711.7,348.9 712.1,353.9 712.5,341.0 712.8,353.1 713.2,346.8 713.6,351.5 713.9,347.6 714.3,350.3 714.7,346.7 715.1,349.9 715.4,351.7 715.8,345.5 716.2,341.6 716.6,345.5 716.9,346.4 717.3,351.0 717.7,347.3 718.0,345.3 718.4,349.6 718.8,343.7 719.2,347.3 719.5,345.9 719.9,349.2 720.3,349.2 720.7,346.5 721.0,345.9 721.4,346.1 721.8,351.4 722.1,350.4 722.5,347.7 722.9,354.8 723.3,343.7 723.6,346.5 724.0,347.7 724.4,350.6 724.7,344.8 725.1,349.0 725.5,340.7 725.9,346.5 726.2,353.8 726.6,345.4 727.0,350.2 727.4,350.2 727.7,349.2 728.1,348.8 728.5,347.4 728.8,345.5 729.2,346.8 729.6,351.3 730.0,353.7 730.3,351.7 730.7,347.3 731.1,345.4 731.4,342.0 731.8,353.9 732.2,348.6 732.6,349.8 732.9,350.5 733.3,348.5 733.7,350.0 734.1,350.1 734.4,351.6 734.8,347.7 735.2,345.2 735.5,343.1 735.9,351.3 736.3,353.3 736.7,350.4 737.0,352.5 737.4,345.6 737.8,352.5 738.2,349.2 738.5,354.6 738.9,350.9 739.3,348.9 739.6,343.9 740.0,352.2 740.4,348.3 740.8,357.5 741.1,354.3 741.5,352.8 741.9,351.7 742.2,348.2 742.6,347.5 743.0,355.9 743.4,348.0 743.7,354.1 744.1,343.1 744.5,348.9 744.9,349.5 745.2,350.8 745.6,350.3 746.0,350.2 746.3,352.8 746.7,347.4 747.1,349.3 747.5,347.5 747.8,350.6 748.2,347.8 748.6,353.2 748.9,337.2 749.3,353.1 749.7,352.1 750.1,346.9 750.4,346.0 750.8,353.5 751.2,356.8 751.6,355.8 751.9,354.4 752.3,353.6 752.7,351.3 753.0,347.0 753.4,346.8 753.8,353.1 754.2,348.9 754.5,347.6 754.9,345.7 755.3,351.6 755.6,353.7 756.0,348.3 756.4,345.5 756.8,353.0 757.1,343.9 757.5,344.8 757.9,352.2 758.3,357.0 758.6,353.5 759.0,352.6 759.4,349.4 759.7,357.5 760.1,342.4 760.5,342.8 760.9,354.1 761.2,358.3 761.6,352.1 762.0,350.0 762.4,346.6 762.7,349.0 763.1,352.4 763.5,358.9 763.8,349.8 764.2,348.6 764.6,352.9 765.0,350.8 765.3,351.1 765.7,352.8 766.1,356.1 766.4,350.7 766.8,357.2 767.2,346.9 767.6,355.3 767.9,350.3 768.3,354.8 768.7,350.7 769.1,352.9 769.4,350.3 769.8,355.1 770.2,358.2 770.5,353.3 770.9,353.6 771.3,357.9 771.7,354.9 772.0,358.6 772.4,352.1 772.8,353.9 773.1,352.5 773.5,343.2 773.9,352.1 774.3,351.3 774.6,350.5 775.0,353.3 775.4,355.0 775.8,349.7 776.1,349.2 776.5,363.5 776.9,353.5 777.2,354.2 777.6,355.1 778.0,348.6 778.4,355.0 778.7,350.0 779.1,355.1 779.5,354.7 779.8,350.6 780.2,356.0 780.6,353.9 781.0,357.4 781.3,356.6 781.7,350.9 782.1,351.4 782.5,357.6 782.8,357.8 783.2,344.5 783.6,355.9 783.9,356.8 784.3,351.9 784.7,356.5 785.1,355.1 785.4,350.6 785.8,350.3 786.2,354.6 786.6,349.1 786.9,354.5 787.3,354.9 787.7,354.1 788.0,355.2 788.4,352.2 788.8,353.2 789.2,357.0 789.5,353.6 789.9,356.2 790.3,356.4 790.6,354.8 791.0,350.8 791.4,353.4 791.8,350.0 792.1,348.9 792.5,354.7 792.9,356.7 793.3,357.4 793.6,353.7 794.0,351.6 794.4,349.1 794.7,359.4 795.1,351.5 795.5,351.0 795.9,346.2 796.2,354.2 796.6,355.0 797.0,360.3 797.3,357.8 797.7,358.9 798.1,358.6 798.5,358.3 798.8,360.5 799.2,355.5 799.6,353.8 800.0,352.6 800.3,355.6 800.7,351.6 801.1,351.6 801.4,360.7 801.8,356.3 802.2,359.8 802.6,358.9 802.9,354.8 803.3,355.9 803.7,350.4 804.1,348.4 804.4,354.1 804.8,356.3 805.2,356.2 805.5,355.7 805.9,353.7 806.3,358.3 806.7,353.7 807.0,356.6 807.4,352.1 807.8,351.1 808.1,349.8 808.5,356.4 808.9,360.6 809.3,361.8 809.6,357.0 810.0,361.0 810.4,361.8 810.8,357.3 811.1,359.5 811.5,353.7 811.9,349.4 812.2,357.0 812.6,355.1 813.0,361.7 813.4,355.6 813.7,358.7 814.1,360.1 814.5,362.8 814.8,350.8 815.2,362.0 815.6,360.6 816.0,356.4 816.3,355.5 816.7,355.5 817.1,356.2 817.5,359.7 817.8,353.9 818.2,356.0 818.6,361.7 818.9,351.2 819.3,357.9 819.7,353.5 820.1,361.8 820.4,360.9 820.8,358.8 821.2,359.2 821.5,353.4 821.9,362.5 822.3,356.4 822.7,360.5 823.0,355.2 823.4,356.3 823.8,359.0 824.2,349.4 824.5,357.3 824.9,353.4 825.3,361.7 825.6,357.6 826.0,356.9 826.4,356.8 826.8,358.5 827.1,360.2 827.5,367.9 827.9,359.3 828.3,360.5 828.6,358.3 829.0,354.5 829.4,349.9 829.7,355.7 830.1,354.1 830.5,355.4 830.9,355.1 831.2,355.6 831.6,358.5 832.0,358.8 832.3,356.6 832.7,351.6 833.1,355.1 833.5,352.3 833.8,362.2 834.2,356.9 834.6,356.5 835.0,356.1 835.3,362.5 835.7,364.1 836.1,365.1 836.4,359.3 836.8,350.0 837.2,357.2 837.6,362.1 837.9,356.9 838.3,359.0 838.7,357.5 839.0,359.6 839.4,362.5 839.8,359.9 840.2,355.7 840.5,357.1 840.9,354.0 841.3,361.8 841.7,354.7 842.0,358.0 842.4,357.6 842.8,354.0 843.1,358.7 843.5,357.4 843.9,356.1 844.3,356.1 844.6,355.6 845.0,354.0 845.4,356.6 845.8,359.9 846.1,350.2 846.5,358.5 846.9,357.2 847.2,361.0 847.6,365.8 848.0,361.1 848.4,358.3 848.7,356.7 849.1,358.4 849.5,355.8 849.8,355.1 850.2,355.2 850.6,358.5 851.0,358.2 851.3,359.2 851.7,361.4 852.1,353.7 852.5,362.6 852.8,358.7 853.2,357.7 853.6,365.7 853.9,356.0"/>
<polyline fill="none" stroke="#c2188a" stroke-width="1" shape-rendering="crispEdges" stroke-linejoin="round" points="60.9,318.0 61.3,327.4 61.6,328.4 62.0,338.4 62.4,326.3 62.8,327.9 63.1,328.9 63.5,325.1 63.9,324.7 64.3,331.6 64.6,330.9 65.0,329.1 65.4,323.8 65.7,324.5 66.1,333.1 66.5,332.3 66.9,323.9 67.2,320.2 67.6,327.6 68.0,330.7 68.3,322.7 68.7,329.1 69.1,324.5 69.5,320.8 69.8,325.1 70.2,327.6 70.6,324.7 71.0,330.9 71.3,328.9 71.7,330.7 72.1,329.0 72.4,330.3 72.8,329.0 73.2,329.9 73.6,327.8 73.9,327.9 74.3,326.9 74.7,321.9 75.0,335.3 75.4,322.4 75.8,329.4 76.2,333.9 76.5,329.1 76.9,328.0 77.3,323.6 77.7,333.2 78.0,327.4 78.4,327.9 78.8,336.0 79.1,333.8 79.5,325.7 79.9,325.3 80.3,323.5 80.6,326.0 81.0,326.6 81.4,327.8 81.7,322.8 82.1,332.1 82.5,328.9 82.9,326.5 83.2,335.3 83.6,322.2 84.0,331.7 84.4,328.4 84.7,318.3 85.1,331.8 85.5,330.4 85.8,320.9 86.2,332.8 86.6,329.9 87.0,325.5 87.3,325.8 87.7,325.1 88.1,326.1 88.5,321.6 88.8,323.0 89.2,324.9 89.6,330.6 89.9,330.7 90.3,336.0 90.7,324.1 91.1,335.5 91.4,323.1 91.8,318.6 92.2,331.8 92.5,330.0 92.9,329.0 93.3,322.9 93.7,330.6 94.0,327.2 94.4,328.9 94.8,327.6 95.2,320.5 95.5,330.7 95.9,325.9 96.3,324.9 96.6,322.1 97.0,331.8 97.4,320.7 97.8,323.8 98.1,321.6 98.5,325.2 98.9,333.0 99.2,328.3 99.6,321.4 100.0,324.9 100.4,325.2 100.7,316.6 101.1,314.6 101.5,324.8 101.9,315.6 102.2,333.7 102.6,333.9 103.0,320.2 103.3,325.3 103.7,321.3 104.1,321.5 104.5,324.2 104.8,320.5 105.2,322.9 105.6,330.6 106.0,322.3 106.3,322.4 106.7,314.5 107.1,328.3 107.4,322.8 107.8,324.8 108.2,323.3 108.6,314.8 108.9,320.7 109.3,324.5 109.7,321.5 110.0,318.5 110.4,326.7 110.8,323.1 111.2,314.4 111.5,317.5 111.9,321.6 112.3,323.5 112.7,321.8 113.0,328.3 113.4,316.2 113.8,318.9 114.1,319.7 114.5,326.4 114.9,323.5 115.3,317.4 115.6,318.5 116.0,321.9 116.4,317.0 116.7,314.7 117.1,322.3 117.5,321.5 117.9,322.9 118.2,324.1 118.6,314.5 119.0,315.8 119.4,316.4 119.7,323.6 120.1,322.8 120.5,317.9 120.8,319.4 121.2,316.7 121.6,320.5 122.0,313.7 122.3,307.9 122.7,309.0 123.1,308.5 123.4,315.9 123.8,311.6 124.2,317.8 124.6,311.3 124.9,317.5 125.3,317.9 125.7,318.5 126.1,311.7 126.4,313.7 126.8,314.0 127.2,320.4 127.5,313.9 127.9,321.6 128.3,307.0 128.7,314.8 129.0,313.1 129.4,314.4 129.8,321.6 130.2,320.4 130.5,313.6 130.9,305.8 131.3,318.7 131.6,316.5 132.0,313.1 132.4,321.2 132.8,321.1 133.1,314.5 133.5,312.5 133.9,314.1 134.2,304.3 134.6,312.7 135.0,309.9 135.4,303.5 135.7,302.8 136.1,319.3 136.5,313.0 136.9,305.1 137.2,317.8 137.6,315.3 138.0,317.0 138.3,317.2 138.7,315.9 139.1,309.0 139.5,303.2 139.8,301.7 140.2,309.3 140.6,319.2 140.9,309.2 141.3,310.5 141.7,306.7 142.1,309.0 142.4,317.4 142.8,305.8 143.2,318.4 143.6,311.1 143.9,305.7 144.3,305.3 144.7,298.8 145.0,319.0 145.4,304.8 145.8,302.7 146.2,307.8 146.5,302.6 146.9,311.5 147.3,302.1 147.7,302.5 148.0,310.3 148.4,308.4 148.8,305.7 149.1,308.0 149.5,298.8 149.9,303.2 150.3,297.0 150.6,297.5 151.0,303.2 151.4,304.3 151.7,308.1 152.1,307.1 152.5,306.9 152.9,300.6 153.2,306.9 153.6,301.5 154.0,300.7 154.4,304.1 154.7,302.2 155.1,293.3 155.5,292.1 155.8,304.7 156.2,301.3 156.6,302.1 157.0,301.3 157.3,291.3 157.7,295.6 158.1,292.3 158.4,289.2 158.8,301.0 159.2,299.4 159.6,297.9 159.9,292.3 160.3,298.2 160.7,293.9 161.1,290.8 161.4,290.6 161.8,294.3 162.2,300.8 162.5,304.7 162.9,289.8 163.3,293.2 163.7,300.7 164.0,298.0 164.4,297.5 164.8,304.0 165.1,293.1 165.5,298.5 165.9,295.5 166.3,289.4 166.6,293.6 167.0,289.7 167.4,289.9 167.8,291.6 168.1,291.1 168.5,280.4 168.9,291.4 169.2,280.7 169.6,294.7 170.0,284.9 170.4,287.6 170.7,292.2 171.1,302.7 171.5,278.0 171.9,293.3 172.2,291.8 172.6,285.0 173.0,284.9 173.3,283.0 173.7,285.5 174.1,292.1 174.5,277.5 174.8,287.1 175.2,279.7 175.6,276.7 175.9,272.2 176.3,279.6 176.7,279.2 177.1,277.9 177.4,286.7 177.8,279.2 178.2,279.8 178.6,279.8 178.9,270.9 179.3,272.9 179.7,260.2 180.0,259.9 180.4,279.8 180.8,266.4 181.2,272.4 181.5,261.6 181.9,263.0 182.3,257.1 182.6,259.9 183.0,255.9 183.4,261.6 183.8,274.7 184.1,265.1 184.5,261.9 184.9,258.5 185.3,260.8 185.6,242.3 186.0,253.0 186.4,242.2 186.7,251.9 187.1,237.5 187.5,255.4 187.9,242.2 188.2,254.1 188.6,241.0 189.0,232.0 189.4,252.8 189.7,246.5 190.1,237.7 190.5,239.5 190.8,246.6 191.2,228.1 191.6,234.7 192.0,225.1 192.3,230.9 192.7,240.3 193.1,234.7 193.4,220.7 193.8,239.4 194.2,232.0 194.6,223.6 194.9,219.7 195.3,220.2 195.7,235.8 196.1,209.4 196.4,224.7 196.8,222.6 197.2,221.9 197.5,222.7 197.9,227.3 198.3,221.8 198.7,209.0 199.0,227.9 199.4,235.0 199.8,212.5 200.1,213.2 200.5,209.6 200.9,201.4 201.3,218.8 201.6,211.4 202.0,208.2 202.4,202.1 202.8,202.8 203.1,216.1 203.5,219.4 203.9,210.4 204.2,219.8 204.6,198.6 205.0,209.3 205.4,208.3 205.7,211.7 206.1,192.7 206.5,201.4 206.8,206.1 207.2,197.6 207.6,202.2 208.0,196.4 208.3,190.2 208.7,201.8 209.1,195.2 209.5,195.0 209.8,189.4 210.2,193.1 210.6,197.0 210.9,201.8 211.3,194.1 211.7,204.1 212.1,190.5 212.4,194.8 212.8,190.7 213.2,198.7 213.6,200.7 213.9,201.3 214.3,185.4 214.7,195.5 215.0,195.5 215.4,207.5 215.8,193.8 216.2,220.3 216.5,182.4 216.9,194.9 217.3,192.7 217.6,204.0 218.0,201.4 218.4,188.2 218.8,194.6 219.1,189.7 219.5,183.3 219.9,188.3 220.3,208.4 220.6,201.5 221.0,202.9 221.4,201.3 221.7,210.6 222.1,210.6 222.5,200.8 222.9,200.0 223.2,191.8 223.6,198.8 224.0,185.8 224.3,211.5 224.7,208.8 225.1,196.7 225.5,201.4 225.8,207.6 226.2,194.8 226.6,193.0 227.0,192.0 227.3,205.8 227.7,203.6 228.1,202.5 228.4,204.6 228.8,198.0 229.2,210.2 229.6,204.5 229.9,224.7 230.3,203.3 230.7,197.5 231.1,210.8 231.4,203.7 231.8,224.6 232.2,215.6 232.5,225.4 232.9,212.5 233.3,211.9 233.7,226.6 234.0,223.6 234.4,222.6 234.8,201.5 235.1,220.5 235.5,220.0 235.9,219.0 236.3,220.3 236.6,225.0 237.0,233.6 237.4,229.7 237.8,213.9 238.1,224.5 238.5,229.7 238.9,237.5 239.2,229.0 239.6,229.1 240.0,234.7 240.4,224.6 240.7,235.8 241.1,233.5 241.5,227.2 241.8,232.2 242.2,226.6 242.6,236.7 243.0,238.8 243.3,233.1 243.7,235.5 244.1,229.4 244.5,235.3 244.8,238.9 245.2,236.2 245.6,235.3 245.9,248.0 246.3,241.9 246.7,243.8 247.1,233.9 247.4,245.9 247.8,236.0 248.2,252.3 248.5,244.6 248.9,237.4 249.3,246.8 249.7,237.7 250.0,259.5 250.4,246.1 250.8,245.5 251.2,247.8 251.5,257.4 251.9,243.2 252.3,263.5 252.6,241.9 253.0,246.6 253.4,242.3 253.8,250.8 254.1,256.7 254.5,252.9 254.9,252.7 255.3,245.8 255.6,251.9 256.0,247.2 256.4,246.8 256.7,240.7 257.1,263.3 257.5,252.9 257.9,245.7 258.2,245.6 258.6,253.8 259.0,251.8 259.3,250.6 259.7,248.9 260.1,253.3 260.5,253.7 260.8,256.6 261.2,251.5 261.6,239.5 262.0,254.8 262.3,241.7 262.7,234.8 263.1,246.0 263.4,231.1 263.8,247.3 264.2,234.6 264.6,245.5 264.9,252.7 265.3,241.5 265.7,230.3 266.0,246.3 266.4,238.2 266.8,247.5 267.2,245.9 267.5,235.8 267.9,239.2 268.3,233.1 268.7,227.3 269.0,243.3 269.4,239.0 269.8,232.9 270.1,216.1 270.5,233.6 270.9,233.7 271.3,226.1 271.6,213.2 272.0,231.1 272.4,228.0 272.8,224.3 273.1,217.9 273.5,206.3 273.9,229.8 274.2,231.5 274.6,217.0 275.0,212.9 275.4,232.0 275.7,218.8 276.1,205.8 276.5,215.6 276.8,206.7 277.2,207.7 277.6,202.7 278.0,202.9 278.3,202.8 278.7,193.9 279.1,206.2 279.5,199.4 279.8,190.2 280.2,201.6 280.6,198.7 280.9,200.1 281.3,200.1 281.7,175.4 282.1,186.0 282.4,173.4 282.8,180.8 283.2,184.3 283.5,185.5 283.9,179.4 284.3,180.0 284.7,170.4 285.0,182.9 285.4,172.4 285.8,167.9 286.2,171.5 286.5,169.4 286.9,160.7 287.3,158.4 287.6,161.7 288.0,158.6 288.4,160.9 288.8,149.0 289.1,152.3 289.5,162.3 289.9,149.0 290.2,138.3 290.6,138.6 291.0,146.1 291.4,129.0 291.7,127.2 292.1,124.2 292.5,113.0 292.9,126.6 293.2,115.0 293.6,119.8 294.0,105.5 294.3,101.1 294.7,104.5 295.1,99.5 295.5,111.6 295.8,95.7 296.2,110.4 296.6,76.3 297.0,83.4 297.3,106.5 297.7,114.9 298.1,74.3 298.4,92.5 298.8,76.3 299.2,91.5 299.6,75.5 299.9,79.8 300.3,64.7 300.7,71.1 301.0,50.1 301.4,69.5 301.8,46.1 302.2,56.2 302.5,47.9 302.9,66.8 303.3,65.9 303.7,34.8 304.0,55.9 304.4,44.8 304.8,42.8 305.1,47.3 305.5,34.5 305.9,50.0 306.3,46.7 306.6,23.8 307.0,41.3 307.4,24.8 307.7,25.4 308.1,16.4 308.5,27.6 308.9,51.8 309.2,40.0 309.6,38.3 310.0,22.1 310.4,32.2 310.7,41.9 311.1,33.5 311.5,43.0 311.8,35.1 312.2,40.7 312.6,32.4 313.0,42.2 313.3,37.4 313.7,49.9 314.1,44.9 314.4,56.1 314.8,50.8 315.2,57.9 315.6,64.6 315.9,71.0 316.3,73.1 316.7,69.4 317.1,100.3 317.4,69.7 317.8,108.6 318.2,91.4 318.5,96.6 318.9,90.2 319.3,98.7 319.7,105.1 320.0,107.7 320.4,103.5 320.8,94.7 321.2,116.8 321.5,142.9 321.9,132.1 322.3,128.7 322.6,107.2 323.0,147.1 323.4,147.5 323.8,143.1 324.1,148.7 324.5,166.1 324.9,150.0 325.2,172.3 325.6,166.5 326.0,156.3 326.4,181.1 326.7,175.9 327.1,162.2 327.5,180.5 327.9,189.4 328.2,188.2 328.6,179.4 329.0,200.8 329.3,195.7 329.7,204.5 330.1,204.3 330.5,187.7 330.8,200.5 331.2,205.5 331.6,201.2 331.9,212.2 332.3,218.1 332.7,202.8 333.1,207.2 333.4,222.3 333.8,213.2 334.2,210.1 334.6,219.3 334.9,221.3 335.3,235.8 335.7,229.7 336.0,243.8 336.4,224.4 336.8,235.0 337.2,225.9 337.5,241.9 337.9,231.8 338.3,250.1 338.7,243.2 339.0,237.8 339.4,240.3 339.8,244.2 340.1,256.0 340.5,236.8 340.9,242.3 341.3,240.0 341.6,241.0 342.0,252.0 342.4,247.7 342.7,233.5 343.1,257.4 343.5,249.9 343.9,257.0 344.2,242.4 344.6,253.4 345.0,262.0 345.4,259.7 345.7,265.6 346.1,271.9 346.5,275.3 346.8,262.9 347.2,266.1 347.6,258.3 348.0,265.1 348.3,258.8 348.7,249.3 349.1,268.8 349.4,269.5 349.8,255.8 350.2,247.5 350.6,268.6 350.9,274.2 351.3,265.7 351.7,266.8 352.1,260.1 352.4,271.8 352.8,267.2 353.2,267.9 353.5,276.3 353.9,276.7 354.3,264.3 354.7,264.0 355.0,272.8 355.4,258.3 355.8,262.5 356.1,265.8 356.5,265.1 356.9,266.9 357.3,264.8 357.6,264.1 358.0,269.3 358.4,282.8 358.8,271.2 359.1,275.6 359.5,278.0 359.9,267.1 360.2,282.2 360.6,266.1 361.0,275.4 361.4,279.3 361.7,277.2 362.1,257.5 362.5,263.0 362.9,274.1 363.2,265.8 363.6,261.5 364.0,278.1 364.3,274.6 364.7,267.2 365.1,270.5 365.5,275.4 365.8,263.2 366.2,270.2 366.6,268.6 366.9,258.8 367.3,270.7 367.7,257.4 368.1,272.0 368.4,275.0 368.8,273.3 369.2,268.8 369.6,270.2 369.9,271.9 370.3,283.5 370.7,281.0 371.0,275.9 371.4,269.7 371.8,265.3 372.2,289.1 372.5,275.1 372.9,277.0 373.3,274.8 373.6,272.8 374.0,279.4 374.4,282.3 374.8,267.8 375.1,269.4 375.5,276.6 375.9,274.8 376.3,278.3 376.6,282.7 377.0,270.0 377.4,278.1 377.7,280.9 378.1,277.7 378.5,263.7 378.9,271.1 379.2,272.4 379.6,273.3 380.0,268.5 380.4,269.3 380.7,281.9 381.1,275.3 381.5,277.8 381.8,272.4 382.2,274.1 382.6,286.1 383.0,266.6 383.3,272.0 383.7,284.4 384.1,266.5 384.4,272.9 384.8,270.7 385.2,273.4 385.6,272.6 385.9,276.7 386.3,283.9 386.7,277.4 387.1,272.4 387.4,273.3 387.8,269.5 388.2,274.1 388.5,287.5 388.9,269.0 389.3,278.5 389.7,281.8 390.0,275.5 390.4,282.0 390.8,271.2 391.1,279.2 391.5,261.4 391.9,275.0 392.3,276.9 392.6,277.5 393.0,286.8 393.4,278.8 393.8,278.1 394.1,275.4 394.5,287.1 394.9,273.1 395.2,265.3 395.6,276.0 396.0,273.6 396.4,270.6 396.7,278.2 397.1,275.9 397.5,267.2 397.8,272.0 398.2,280.7 398.6,284.1 399.0,258.8 399.3,270.2 399.7,282.8 400.1,272.0 400.5,268.7 400.8,272.1 401.2,284.5 401.6,261.6 401.9,269.1 402.3,274.0 402.7,268.5 403.1,274.1 403.4,274.7 403.8,267.1 404.2,284.9 404.6,266.4 404.9,270.1 405.3,267.8 405.7,266.8 406.0,262.8 406.4,263.5 406.8,266.9 407.2,274.8 407.5,268.0 407.9,275.3 408.3,278.2 408.6,269.4 409.0,270.0 409.4,264.8 409.8,285.4 410.1,268.4 410.5,267.9 410.9,271.4 411.3,262.8 411.6,277.4 412.0,269.9 412.4,274.3 412.7,272.0 413.1,277.9 413.5,272.7 413.9,267.7 414.2,271.1 414.6,269.7 415.0,276.6 415.3,262.0 415.7,276.2 416.1,271.8 416.5,268.3 416.8,273.2 417.2,267.4 417.6,271.0 418.0,261.7 418.3,268.9 418.7,270.0 419.1,277.5 419.4,269.7 419.8,266.5 420.2,270.2 420.6,278.6 420.9,276.3 421.3,274.5 421.7,273.0 422.1,281.8 422.4,261.8 422.8,274.0 423.2,272.8 423.5,276.3 423.9,274.0 424.3,262.0 424.7,279.7 425.0,277.2 425.4,280.4 425.8,277.5 426.1,264.9 426.5,278.2 426.9,277.2 427.3,285.6 427.6,276.8 428.0,273.3 428.4,277.8 428.8,277.3 429.1,270.1 429.5,271.8 429.9,275.7 430.2,280.0 430.6,284.4 431.0,265.2 431.4,284.9 431.7,271.6 432.1,276.8 432.5,280.2 432.8,270.4 433.2,280.4 433.6,268.3 434.0,282.3 434.3,273.1 434.7,268.5 435.1,282.1 435.5,263.7 435.8,271.3 436.2,289.9 436.6,268.2 436.9,265.2 437.3,278.4 437.7,278.0 438.1,274.7 438.4,288.5 438.8,276.2 439.2,271.6 439.5,280.7 439.9,270.8 440.3,264.3 440.7,289.4 441.0,288.6 441.4,282.1 441.8,274.2 442.2,275.8 442.5,283.7 442.9,285.1 443.3,282.8 443.6,268.4 444.0,284.3 444.4,282.2 444.8,273.1 445.1,280.5 445.5,284.9 445.9,270.5 446.3,277.1 446.6,283.2 447.0,281.5 447.4,273.6 447.7,281.4 448.1,277.6 448.5,273.9 448.9,273.2 449.2,290.1 449.6,282.1 450.0,281.2 450.3,278.6 450.7,274.6 451.1,272.2 451.5,281.9 451.8,285.8 452.2,278.0 452.6,282.7 453.0,268.8 453.3,277.0 453.7,278.8 454.1,273.2 454.4,283.1 454.8,281.2 455.2,280.2 455.6,275.2 455.9,271.3 456.3,274.2 456.7,274.3 457.0,280.1 457.4,276.4 457.8,279.8 458.2,271.4 458.5,281.9 458.9,278.5 459.3,276.4 459.7,273.0 460.0,281.9 460.4,278.8 460.8,282.2 461.1,285.2 461.5,270.5 461.9,274.1 462.3,285.7 462.6,282.5 463.0,273.1 463.4,280.0 463.8,282.5 464.1,268.5 464.5,278.8 464.9,277.9 465.2,272.1 465.6,279.7 466.0,275.0 466.4,274.0 466.7,270.3 467.1,279.1 467.5,267.8 467.8,272.1 468.2,263.1 468.6,272.5 469.0,276.9 469.3,276.7 469.7,280.1 470.1,273.1 470.5,273.2 470.8,267.2 471.2,272.0 471.6,277.5 471.9,265.8 472.3,274.6 472.7,270.2 473.1,262.7 473.4,263.7 473.8,275.9 474.2,272.0 474.5,262.9 474.9,264.9 475.3,267.5 475.7,265.3 476.0,283.9 476.4,272.3 476.8,279.3 477.2,274.2 477.5,272.5 477.9,267.1 478.3,262.7 478.6,265.0 479.0,268.1 479.4,271.9 479.8,261.7 480.1,268.0 480.5,280.6 480.9,270.1 481.2,266.6 481.6,275.8 482.0,268.5 482.4,260.6 482.7,271.7 483.1,270.5 483.5,270.6 483.9,276.6 484.2,273.7 484.6,277.2 485.0,273.1 485.3,276.5 485.7,266.0 486.1,273.0 486.5,267.4 486.8,280.7 487.2,273.4 487.6,270.1 488.0,269.8 488.3,278.3 488.7,275.5 489.1,274.7 489.4,277.9 489.8,278.8 490.2,273.6 490.6,284.4 490.9,288.6 491.3,281.0 491.7,276.7 492.0,292.5 492.4,270.9 492.8,278.7 493.2,276.1 493.5,284.8 493.9,280.2 494.3,269.2 494.7,269.2 495.0,276.7 495.4,282.3 495.8,281.5 496.1,273.1 496.5,285.4 496.9,286.9 497.3,282.4 497.6,276.4 498.0,288.3 498.4,280.0 498.7,280.1 499.1,281.8 499.5,283.6 499.9,277.4 500.2,279.7 500.6,291.9 501.0,274.0 501.4,281.0 501.7,282.1 502.1,286.2 502.5,286.0 502.8,299.3 503.2,286.1 503.6,281.4 504.0,281.5 504.3,289.3 504.7,299.3 505.1,292.2 505.5,287.6 505.8,278.4 506.2,295.5 506.6,286.1 506.9,282.8 507.3,282.8 507.7,287.0 508.1,302.8 508.4,283.2 508.8,286.1 509.2,283.8 509.5,292.6 509.9,290.0 510.3,278.5 510.7,287.9 511.0,287.5 511.4,291.7 511.8,280.4 512.2,297.3 512.5,290.9 512.9,285.5 513.3,288.3 513.6,283.1 514.0,285.8 514.4,280.1 514.8,289.8 515.1,289.3 515.5,287.1 515.9,299.0 516.2,280.7 516.6,294.2 517.0,282.5 517.4,280.9 517.7,283.4 518.1,288.2 518.5,293.1 518.9,301.8 519.2,286.4 519.6,291.1 520.0,280.0 520.3,291.7 520.7,286.5 521.1,292.5 521.5,287.8 521.8,292.3 522.2,291.4 522.6,301.2 522.9,294.6 523.3,291.5 523.7,283.4 524.1,289.2 524.4,297.8 524.8,281.8 525.2,288.9 525.6,284.6 525.9,296.3 526.3,309.9 526.7,295.6 527.0,297.1 527.4,289.9 527.8,300.2 528.2,296.6 528.5,299.4 528.9,290.9 529.3,297.0 529.7,283.9 530.0,287.3 530.4,287.1 530.8,293.2 531.1,290.6 531.5,287.1 531.9,296.9 532.3,285.1 532.6,292.7 533.0,285.1 533.4,279.6 533.7,283.6 534.1,298.6 534.5,285.7 534.9,294.4 535.2,295.1 535.6,294.1 536.0,299.5 536.4,291.5 536.7,297.0 537.1,286.7 537.5,291.2 537.8,307.7 538.2,298.5 538.6,298.8 539.0,297.0 539.3,296.9 539.7,292.0 540.1,294.0 540.4,299.3 540.8,290.7 541.2,288.0 541.6,293.1 541.9,286.5 542.3,290.7 542.7,296.3 543.1,295.4 543.4,293.1 543.8,290.2 544.2,292.2 544.5,287.7 544.9,286.7 545.3,298.9 545.7,299.7 546.0,293.8 546.4,290.7 546.8,288.1 547.1,289.6 547.5,289.8 547.9,298.5 548.3,291.1 548.6,296.9 549.0,290.9 549.4,288.2 549.8,297.0 550.1,294.6 550.5,279.5 550.9,297.5 551.2,296.1 551.6,299.4 552.0,301.4 552.4,287.7 552.7,297.1 553.1,296.8 553.5,297.8 553.9,309.1 554.2,289.1 554.6,296.4 555.0,293.6 555.3,285.7 555.7,294.2 556.1,292.6 556.5,292.4 556.8,286.2 557.2,300.9 557.6,296.6 557.9,305.6 558.3,293.2 558.7,289.8 559.1,295.8 559.4,282.1 559.8,287.8 560.2,282.3 560.6,292.4 560.9,283.1 561.3,296.2 561.7,290.9 562.0,292.5 562.4,295.6 562.8,283.9 563.2,285.8 563.5,297.0 563.9,289.3 564.3,292.6 564.6,292.2 565.0,289.7 565.4,295.9 565.8,292.0 566.1,291.4 566.5,296.5 566.9,295.9 567.3,288.2 567.6,292.9 568.0,279.8 568.4,281.1 568.7,297.2 569.1,291.5 569.5,304.6 569.9,297.0 570.2,298.5 570.6,297.9 571.0,305.6 571.4,292.2 571.7,292.9 572.1,298.4 572.5,294.3 572.8,288.8 573.2,285.0 573.6,301.5 574.0,285.2 574.3,303.8 574.7,298.8 575.1,296.5 575.4,285.7 575.8,291.0 576.2,291.2 576.6,285.8 576.9,293.3 577.3,297.1 577.7,286.5 578.1,295.9 578.4,301.8 578.8,304.5 579.2,294.0 579.5,284.5 579.9,290.8 580.3,294.7 580.7,288.3 581.0,303.4 581.4,292.8 581.8,298.2 582.1,287.6 582.5,300.0 582.9,290.9 583.3,294.3 583.6,295.4 584.0,291.7 584.4,296.3 584.8,287.7 585.1,296.8 585.5,307.8 585.9,287.8 586.2,288.4 586.6,293.1 587.0,288.2 587.4,292.2 587.7,300.7 588.1,307.4 588.5,301.9 588.8,297.8 589.2,293.4 589.6,304.2 590.0,301.4 590.3,288.0 590.7,300.3 591.1,300.6 591.5,301.8 591.8,287.7 592.2,292.3 592.6,291.8 592.9,287.7 593.3,291.5 593.7,289.5 594.1,294.9 594.4,292.2 594.8,293.6 595.2,293.2 595.6,303.6 595.9,298.4 596.3,299.3 596.7,300.9 597.0,297.6 597.4,287.5 597.8,292.3 598.2,297.0 598.5,295.7 598.9,289.9 599.3,304.4 599.6,295.6 600.0,288.7 600.4,288.0 600.8,293.0 601.1,294.9 601.5,307.9 601.9,302.0 602.3,298.4 602.6,296.2 603.0,296.0 603.4,310.9 603.7,301.4 604.1,297.0 604.5,302.7 604.9,299.9 605.2,295.9 605.6,297.1 606.0,297.9 606.3,294.9 606.7,292.8 607.1,300.6 607.5,304.8 607.8,302.9 608.2,301.9 608.6,299.5 609.0,307.5 609.3,303.5 609.7,300.8 610.1,292.2 610.4,296.7 610.8,300.4 611.2,294.9 611.6,298.8 611.9,298.5 612.3,294.1 612.7,298.1 613.1,299.1 613.4,296.1 613.8,303.0 614.2,299.9 614.5,311.5 614.9,302.5 615.3,292.0 615.7,302.3 616.0,300.4 616.4,302.8 616.8,306.1 617.1,298.0 617.5,300.8 617.9,294.9 618.3,305.6 618.6,300.7 619.0,302.8 619.4,304.2 619.8,295.3 620.1,305.0 620.5,305.0 620.9,287.7 621.2,301.7 621.6,302.5 622.0,299.0 622.4,306.9 622.7,299.7 623.1,307.9 623.5,304.2 623.8,304.8 624.2,294.6 624.6,298.5 625.0,292.1 625.3,293.1 625.7,305.7 626.1,299.3 626.5,304.5 626.8,305.6 627.2,295.9 627.6,294.7 627.9,301.7 628.3,300.7 628.7,301.0 629.1,300.9 629.4,300.8 629.8,308.1 630.2,299.6 630.5,306.5 630.9,309.3 631.3,303.8 631.7,301.6 632.0,298.7 632.4,301.2 632.8,301.7 633.2,306.9 633.5,301.3 633.9,302.4 634.3,302.0 634.6,307.6 635.0,294.7 635.4,299.8 635.8,300.3 636.1,303.5 636.5,305.5 636.9,299.2 637.3,311.2 637.6,306.7 638.0,305.9 638.4,301.5 638.7,306.2 639.1,297.2 639.5,314.0 639.9,296.6 640.2,303.2 640.6,300.0 641.0,307.7 641.3,299.7 641.7,306.9 642.1,304.0 642.5,313.1 642.8,302.6 643.2,304.9 643.6,315.5 644.0,306.2 644.3,307.5 644.7,301.6 645.1,309.5 645.4,305.0 645.8,299.4 646.2,310.8 646.6,296.5 646.9,305.1 647.3,307.6 647.7,313.7 648.0,315.9 648.4,301.7 648.8,309.2 649.2,310.1 649.5,301.4 649.9,303.6 650.3,306.5 650.7,314.9 651.0,317.5 651.4,302.6 651.8,307.9 652.1,309.1 652.5,297.9 652.9,310.1 653.3,306.2 653.6,297.1 654.0,305.1 654.4,311.3 654.8,312.9 655.1,302.4 655.5,315.1 655.9,304.6 656.2,300.7 656.6,309.6 657.0,305.0 657.4,309.0 657.7,302.2 658.1,308.1 658.5,313.2 658.8,307.9 659.2,309.1 659.6,313.2 660.0,311.3 660.3,316.4 660.7,314.6 661.1,307.2 661.5,320.0 661.8,309.3 662.2,310.8 662.6,314.0 662.9,303.9 663.3,307.7 663.7,314.3 664.1,310.4 664.4,306.9 664.8,319.6 665.2,310.7 665.5,313.2 665.9,310.0 666.3,301.5 666.7,315.5 667.0,314.1 667.4,318.5 667.8,311.5 668.2,309.6 668.5,325.2 668.9,305.6 669.3,305.1 669.6,326.6 670.0,320.9 670.4,311.0 670.8,313.0 671.1,307.7 671.5,315.1 671.9,307.3 672.2,320.7 672.6,311.9 673.0,316.2 673.4,316.5 673.7,323.0 674.1,316.3 674.5,307.5 674.9,317.7 675.2,315.7 675.6,314.0 676.0,319.5 676.3,313.5 676.7,312.1 677.1,316.2 677.5,324.3 677.8,307.6 678.2,315.0 678.6,315.4 679.0,316.5 679.3,318.4 679.7,323.8 680.1,315.9 680.4,315.0 680.8,311.0 681.2,307.9 681.6,319.6 681.9,308.2 682.3,315.8 682.7,313.4 683.0,321.4 683.4,314.8 683.8,321.2 684.2,313.4 684.5,322.9 684.9,316.7 685.3,319.0 685.7,315.3 686.0,315.9 686.4,316.4 686.8,319.8 687.1,313.2 687.5,314.7 687.9,321.4 688.3,314.0 688.6,320.9 689.0,317.4 689.4,318.4 689.7,318.5 690.1,314.2 690.5,326.9 690.9,312.1 691.2,326.9 691.6,312.4 692.0,315.8 692.4,325.8 692.7,316.9 693.1,320.3 693.5,324.6 693.8,313.1 694.2,313.6 694.6,317.2 695.0,311.0 695.3,318.5 695.7,320.6 696.1,313.0 696.5,323.1 696.8,315.7 697.2,314.3 697.6,318.7 697.9,319.3 698.3,317.6 698.7,318.8 699.1,323.4 699.4,337.4 699.8,322.7 700.2,327.4 700.5,315.7 700.9,322.7 701.3,319.5 701.7,317.1 702.0,315.9 702.4,325.3 702.8,310.6 703.2,316.6 703.5,318.0 703.9,325.5 704.3,311.5 704.6,318.1 705.0,315.9 705.4,322.7 705.8,312.3 706.1,314.3 706.5,321.9 706.9,312.0 707.2,326.6 707.6,317.4 708.0,318.6 708.4,318.4 708.7,325.2 709.1,323.6 709.5,317.4 709.9,317.0 710.2,322.4 710.6,323.4 711.0,324.7 711.3,316.0 711.7,323.1 712.1,325.1 712.5,331.6 712.8,331.1 713.2,328.1 713.6,332.5 713.9,324.9 714.3,324.4 714.7,327.8 715.1,325.2 715.4,323.6 715.8,331.6 716.2,320.0 716.6,336.5 716.9,314.2 717.3,330.5 717.7,323.4 718.0,325.3 718.4,321.9 718.8,327.3 719.2,321.2 719.5,331.2 719.9,320.3 720.3,325.2 720.7,322.2 721.0,319.2 721.4,329.7 721.8,326.9 722.1,327.7 722.5,324.7 722.9,323.5 723.3,320.9 723.6,323.3 724.0,325.1 724.4,321.9 724.7,319.6 725.1,320.0 725.5,314.7 725.9,327.6 726.2,323.6 726.6,331.0 727.0,328.0 727.4,321.9 727.7,319.0 728.1,327.2 728.5,322.8 728.8,324.6 729.2,322.7 729.6,324.1 730.0,327.4 730.3,335.7 730.7,332.2 731.1,323.5 731.4,325.7 731.8,315.7 732.2,325.2 732.6,321.2 732.9,331.0 733.3,332.1 733.7,324.7 734.1,317.9 734.4,323.8 734.8,327.2 735.2,323.9 735.5,323.0 735.9,323.8 736.3,325.8 736.7,330.9 737.0,331.3 737.4,328.5 737.8,326.7 738.2,332.2 738.5,318.8 738.9,323.5 739.3,328.7 739.6,322.8 740.0,315.2 740.4,325.3 740.8,325.4 741.1,321.8 741.5,332.8 741.9,329.2 742.2,330.2 742.6,323.1 743.0,334.5 743.4,325.3 743.7,329.0 744.1,328.2 744.5,329.5 744.9,320.2 745.2,330.9 745.6,332.5 746.0,325.7 746.3,329.8 746.7,324.8 747.1,327.5 747.5,327.1 747.8,327.1 748.2,335.1 748.6,336.6 748.9,318.3 749.3,332.9 749.7,325.2 750.1,332.7 750.4,328.1 750.8,328.9 751.2,321.1 751.6,328.7 751.9,334.8 752.3,334.4 752.7,326.6 753.0,324.0 753.4,318.9 753.8,318.4 754.2,334.6 754.5,328.7 754.9,333.7 755.3,327.0 755.6,324.6 756.0,336.6 756.4,324.5 756.8,325.2 757.1,329.6 757.5,331.2 757.9,321.0 758.3,329.3 758.6,333.6 759.0,328.2 759.4,324.0 759.7,325.7 760.1,337.7 760.5,335.0 760.9,330.8 761.2,328.3 761.6,328.3 762.0,334.7 762.4,325.0 762.7,327.0 763.1,336.3 763.5,333.6 763.8,329.8 764.2,336.2 764.6,329.2 765.0,328.6 765.3,331.4 765.7,326.9 766.1,321.4 766.4,332.5 766.8,327.5 767.2,331.7 767.6,322.8 767.9,324.1 768.3,329.8 768.7,332.6 769.1,326.3 769.4,330.2 769.8,335.4 770.2,334.5 770.5,330.7 770.9,320.3 771.3,325.2 771.7,323.9 772.0,325.9 772.4,324.0 772.8,323.5 773.1,335.2 773.5,327.6 773.9,327.5 774.3,328.2 774.6,328.5 775.0,341.7 775.4,329.7 775.8,336.6 776.1,326.3 776.5,332.9 776.9,331.9 777.2,330.9 777.6,339.8 778.0,331.5 778.4,336.4 778.7,326.6 779.1,333.2 779.5,336.0 779.8,325.5 780.2,332.3 780.6,335.4 781.0,331.6 781.3,332.0 781.7,330.1 782.1,335.7 782.5,326.5 782.8,329.8 783.2,324.1 783.6,328.9 783.9,335.7 784.3,326.7 784.7,332.6 785.1,331.0 785.4,342.4 785.8,337.1 786.2,325.5 786.6,326.8 786.9,339.4 787.3,330.2 787.7,330.2 788.0,326.3 788.4,336.6 788.8,339.5 789.2,330.5 789.5,334.8 789.9,334.5 790.3,335.9 790.6,326.6 791.0,335.8 791.4,327.8 791.8,329.4 792.1,335.0 792.5,327.9 792.9,326.7 793.3,330.7 793.6,333.3 794.0,329.0 794.4,335.6 794.7,330.2 795.1,325.7 795.5,338.4 795.9,340.4 796.2,329.4 796.6,336.5 797.0,334.6 797.3,332.0 797.7,335.4 798.1,332.2 798.5,337.1 798.8,335.1 799.2,333.2 799.6,330.5 800.0,334.7 800.3,331.5 800.7,330.3 801.1,330.8 801.4,333.5 801.8,327.4 802.2,336.4 802.6,328.5 802.9,328.8 803.3,329.2 803.7,335.4 804.1,329.0 804.4,331.1 804.8,338.1 805.2,334.6 805.5,339.0 805.9,331.6 806.3,327.2 806.7,329.3 807.0,337.7 807.4,337.7 807.8,334.2 808.1,334.1 808.5,330.2 808.9,334.8 809.3,328.6 809.6,335.8 810.0,329.0 810.4,339.8 810.8,335.9 811.1,333.4 811.5,330.0 811.9,331.3 812.2,337.4 812.6,339.3 813.0,333.8 813.4,334.1 813.7,335.4 814.1,333.8 814.5,339.5 814.8,331.6 815.2,329.5 815.6,337.7 816.0,337.5 816.3,328.6 816.7,329.3 817.1,337.3 817.5,336.9 817.8,341.5 818.2,331.9 818.6,333.1 818.9,333.9 819.3,324.3 819.7,334.9 820.1,334.6 820.4,333.0 820.8,335.0 821.2,329.4 821.5,334.9 821.9,333.7 822.3,324.5 822.7,336.7 823.0,339.4 823.4,333.6 823.8,337.0 824.2,337.1 824.5,333.4 824.9,330.7 825.3,341.0 825.6,335.3 826.0,343.5 826.4,330.6 826.8,339.0 827.1,331.8 827.5,326.9 827.9,328.9 828.3,332.9 828.6,343.3 829.0,326.6 829.4,336.6 829.7,331.4 830.1,337.0 830.5,335.9 830.9,328.0 831.2,342.0 831.6,340.2 832.0,336.2 832.3,330.4 832.7,345.7 833.1,329.6 833.5,336.8 833.8,332.1 834.2,323.8 834.6,332.9 835.0,330.4 835.3,329.2 835.7,336.4 836.1,334.5 836.4,335.8 836.8,334.2 837.2,336.4 837.6,337.4 837.9,337.7 838.3,331.9 838.7,340.9 839.0,334.7 839.4,329.3 839.8,341.2 840.2,342.8 840.5,332.3 840.9,338.7 841.3,338.4 841.7,332.5 842.0,334.0 842.4,338.2 842.8,336.7 843.1,341.7 843.5,337.9 843.9,335.7 844.3,333.0 844.6,332.9 845.0,327.9 845.4,335.7 845.8,331.1 846.1,334.3 846.5,339.6 846.9,334.1 847.2,334.0 847.6,332.6 848.0,333.3 848.4,334.9 848.7,339.3 849.1,336.8 849.5,334.2 849.8,332.7 850.2,332.0 850.6,333.9 851.0,332.8 851.3,329.4 851.7,334.6 852.1,337.8 852.5,341.6 852.8,335.3 853.2,332.8 853.6,337.1 853.9,329.2"/>
</g>
<rect x="585.9" y="56.3" width="231.1" height="64.9" fill="#fff" stroke="#1c1c1c" stroke-width="1.15"/>
<polyline fill="none" stroke="#c2188a" stroke-width="1.4" stroke-linejoin="round" points="598.9,77.6 599.4,77.6 599.7,81.6 599.3,77.4 600.3,69.0 600.6,76.3 601.1,79.3 601.3,79.4 601.9,82.8 602.1,76.9 602.1,76.2 603.4,80.4 603.7,78.6 604.4,81.6 604.1,76.1 604.3,76.5 604.6,82.3 604.6,68.5 606.0,69.7 605.5,79.1 605.9,80.4 606.6,77.0 607.7,79.1 607.6,69.0 607.4,82.2 607.9,76.8 608.8,70.9 608.9,78.4 609.0,75.3 609.6,86.4 610.4,79.0 611.2,69.2 610.3,83.5 610.9,76.0 611.2,79.5 611.0,76.8 611.9,77.3 612.3,76.2 613.5,77.7 613.4,72.7 613.1,74.4 614.4,74.9 614.4,78.9 614.2,82.4 615.0,81.2 615.4,78.5 615.7,81.4 616.4,77.8 615.9,75.4 617.0,73.3 617.9,76.5 618.2,76.3 618.7,80.2 619.1,74.4 619.6,77.7 618.9,77.6 620.1,74.8 619.4,79.0 620.3,72.8 620.1,80.8 621.7,76.8 622.1,75.8 621.9,83.0 623.1,79.2 622.5,77.9 623.2,70.7 623.5,70.6 623.4,72.8 624.4,80.3 625.4,78.2 624.6,83.6 625.7,74.0 625.7,79.2 626.8,80.7 626.7,76.9 627.1,71.6 627.5,85.3 627.7,78.2 627.4,85.6 628.9,78.5 628.1,80.4 629.2,74.6 629.7,79.7 629.5,79.2 630.2,78.9 631.0,70.9 630.9,79.1 630.9,77.7 630.5,84.6 631.7,79.2 632.2,84.8 632.6,72.5 632.8,79.7 633.7,81.4 633.7,78.8 634.2,83.0 634.9,81.6 634.7,78.9 635.3,79.6 636.6,79.5 636.5,80.5 636.0,80.7 636.9,78.4 637.5,76.4 638.1,75.9 638.1,79.2 638.2,85.9 638.5,83.0 639.4,81.7 639.6,73.5 639.7,85.5 640.2,81.6 640.4,86.0 641.3,83.1 641.1,76.1 641.9,85.0 642.4,72.8 642.7,78.2 642.5,80.7 643.8,77.2 643.3,79.4 644.1,75.1 644.0,77.9 644.0,87.1 645.2,81.8 645.6,75.9 645.8,83.9 646.3,79.2 646.3,82.5 646.6,73.0 647.2,84.8 648.4,75.7 648.4,82.3 648.2,80.4 648.8,76.5"/>
<polyline fill="none" stroke="#ff8c00" stroke-width="1.4" stroke-linejoin="round" points="601.6,99.9 601.9,98.6 603.4,100.0 602.7,98.4 603.2,105.3 604.2,108.1 603.6,109.8 604.1,104.5 604.8,104.7 605.0,107.5 605.1,108.6 605.9,107.6 606.2,106.6 607.0,99.5 606.5,95.7 607.3,105.4 608.4,101.7 609.1,101.9 608.1,98.7 609.4,97.1 609.1,107.7 609.6,104.0 609.9,98.1 610.5,103.8 611.5,103.5 611.8,104.4 611.9,111.1 612.1,102.3 612.7,97.5 613.0,102.7 613.8,100.0 613.6,104.7 614.2,103.4 614.6,104.0 615.0,100.5 615.5,104.3 615.9,100.8 616.8,104.8 616.6,101.7 617.6,98.5 617.3,104.8 617.6,100.2 618.2,108.6 618.7,104.7 619.1,104.9 619.9,103.5 620.2,102.9 620.4,93.8 620.4,107.9 620.9,100.0 621.9,107.0 621.9,100.8 621.6,102.8 622.3,102.5 622.7,99.3 623.8,102.7 623.7,105.3 625.0,101.9 624.8,98.6 625.0,101.3 625.1,104.6 626.1,108.1 626.0,106.9 626.2,104.8 627.1,99.8 627.3,107.3 628.2,103.9 628.1,102.9 627.3,107.4 629.2,106.3 628.5,105.9 630.3,99.5 630.8,101.6 630.3,97.4 630.4,104.8 630.7,104.2 632.0,107.8 632.0,105.0 632.2,102.8 632.7,112.5 634.1,100.3 633.8,99.1 634.3,102.0 634.7,106.4 635.2,103.1 635.6,102.7 635.3,100.1 635.9,110.3 636.1,102.1 636.5,100.4 637.6,104.2 637.4,101.5 637.9,103.8 638.1,110.0 638.5,103.0 639.5,104.6 639.4,103.4 639.8,104.1 640.5,108.1 640.9,107.0 641.5,103.7 641.6,101.4 641.2,104.5 642.6,108.3 642.9,105.1 643.5,104.7 643.2,98.1 644.9,109.1 643.8,99.5 645.0,100.3 645.1,103.9 645.3,105.5 646.2,105.6 646.2,102.5 645.7,104.3 646.6,103.1 647.6,98.5 648.8,104.6 647.7,102.9 648.6,107.3 649.6,105.1 649.7,109.5 649.7,108.5 649.7,109.3 649.9,110.5 650.7,108.6 651.3,105.2 650.9,111.2 651.5,102.3 652.6,105.9"/>
<g class="lg"><text transform="translate(660.1,83.5) scale(.955,1)">Treated</text><text transform="translate(714.9,83.5) scale(.97,1)">kenaf</text><text transform="translate(757,83.5) scale(.955,1)">stem</text>
<text transform="translate(659.3,110.7) scale(.955,1)">Untreated</text><text transform="translate(729.6,110.7) scale(.97,1)">kenaf</text><text transform="translate(771.5,110.7) scale(.955,1)">stem</text></g>
</svg>
</body></html>
